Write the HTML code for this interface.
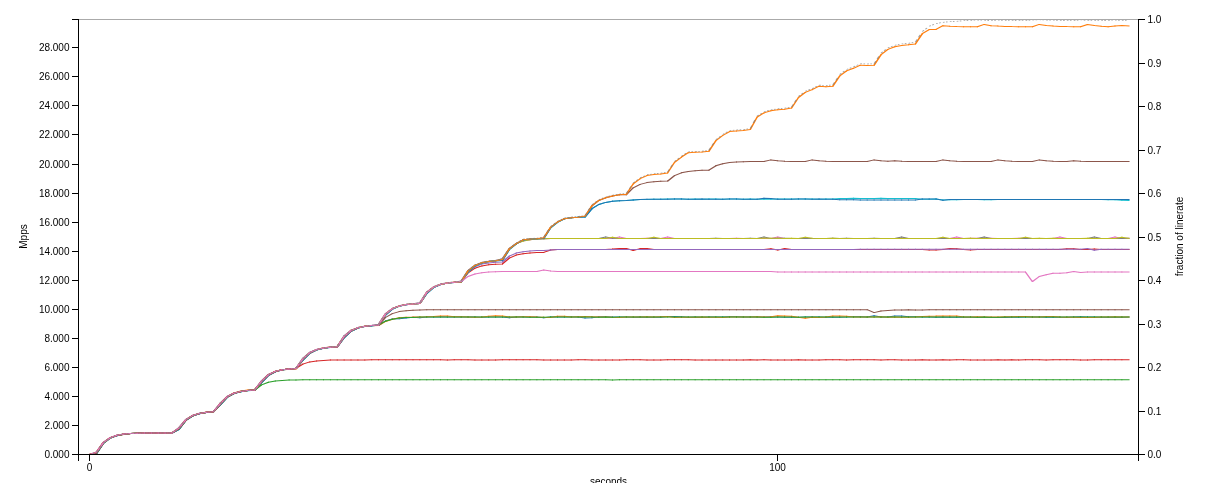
<!DOCTYPE html>
<html><head><meta charset="utf-8"><title>chart</title>
<style>
html,body{margin:0;padding:0;background:#fff;overflow:hidden}
svg{display:block;will-change:transform;font-family:"Liberation Sans",sans-serif;font-size:10px}
.ln path{fill:none;stroke-width:1;stroke-linecap:square;stroke-linejoin:round}
.ln path.n{stroke-linecap:butt}
.ln path.d{stroke-linecap:butt;stroke-width:0.8;stroke-opacity:0.7}
.ax path{fill:none;stroke:#000;stroke-width:1;shape-rendering:crispEdges}
.ax text,.lb{fill:#000}
</style></head><body>
<svg width="1205" height="483" viewBox="0 0 1205 483">
<g class="ln" transform="scale(1.6,1)">
<path d="M55.94,454.5L60.24,453.7L64.54,443.5L68.84,438.1L73.14,435.7L77.45,434.3L81.75,433.6L86.05,433.5L90.35,433.2L94.65,433.2L98.95,433.1L103.25,433.2L107.56,433.2L111.86,429.4L116.16,420.2L120.46,415.9L124.76,413.7L129.06,412.4L133.37,411.7L137.67,404.7L141.97,397.2L146.27,393.2L150.57,391.7L154.87,390.5L159.17,390.2L163.48,382.7L167.78,375.6L172.08,371.9L176.38,369.8L180.68,369.1L184.98,368.5L189.29,360L193.59,353.3L197.89,349.8L202.19,348.3L206.49,347.6L210.79,347.1L215.1,337.6L219.4,331.3L223.7,328.1L228,326.4L232.3,325.7L236.6,325.3L240.9,321L245.21,318.9L249.51,318.8L253.81,318.1L258.11,317.3L262.41,317.7L266.71,316.9L271.02,317L275.32,316.8L279.62,317.1L283.92,317.1L288.22,316.9L292.52,317.1L296.82,317.1L301.13,317.2L305.43,317.1L309.73,316.9L314.03,316.9L318.33,317.7L322.63,317L326.94,316.9L331.24,316.9L335.54,316.9L339.84,317.7L344.14,316.9L348.44,316.7L352.75,316.9L357.05,316.9L361.35,317.1L365.65,317.9L369.95,317.7L374.25,316.8L378.55,316.7L382.86,317L387.16,317L391.46,317L395.76,317.2L400.06,317.1L404.36,317.2L408.67,317.3L412.97,317.3L417.27,316.5L421.57,316.5L425.87,316.8L430.17,317.2L434.48,316.9L438.78,317.2L443.08,317.1L447.38,317L451.68,316.9L455.98,316.8L460.28,316.7L464.59,317L468.89,317L473.19,317.1L477.49,316.9L481.79,316.8L486.09,317L490.4,317.2L494.7,317.2L499,317.2L503.3,317.1L507.6,317L511.9,317.1L516.2,317.3L520.51,317.2L524.81,317.2L529.11,317.1L533.41,316.8L537.71,316.8L542.01,316.9L546.32,315.8L550.62,316.9L554.92,317.1L559.22,316L563.52,316L567.82,316.8L572.12,316.8L576.43,316.9L580.73,317L585.03,317.2L589.33,317L593.63,317.2L597.93,317.3L602.24,317.3L606.54,317.3L610.84,317.2L615.14,317.3L619.44,317.4L623.74,317.4L628.05,317.4L632.35,317.2L636.65,317.3L640.95,317L645.25,317L649.55,317.1L653.85,317.2L658.16,317.2L662.46,317.2L666.76,317.2L671.06,317L675.36,316.8L679.66,316.9L683.97,317L688.27,317.2L692.57,317.3L696.87,317.2L701.17,317.2L705.47,317" stroke="#1f77b4"/>
<path d="M59.93,453.7h0.62M64.23,443.5h0.62M68.53,438.1h0.62M72.83,435.7h0.62M77.13,434.3h0.62M81.43,433.6h0.62M85.74,433.5h0.62M90.04,433.2h0.62M94.34,433.2h0.62M98.64,433.1h0.62M102.94,433.2h0.62M107.24,433.2h0.62M111.55,429.4h0.62M115.85,420.2h0.62M120.15,415.9h0.62M124.45,413.7h0.62M128.75,412.4h0.62M133.05,411.7h0.62M137.35,404.7h0.62M141.66,397.2h0.62M145.96,393.2h0.62M150.26,391.7h0.62M154.56,390.5h0.62M158.86,390.2h0.62M163.16,382.7h0.62M167.47,375.6h0.62M171.77,371.9h0.62M176.07,369.8h0.62M180.37,369.1h0.62M184.67,368.5h0.62M188.97,360h0.62M193.28,353.3h0.62M197.58,349.8h0.62M201.88,348.3h0.62M206.18,347.6h0.62M210.48,347.1h0.62M214.78,337.6h0.62M219.08,331.3h0.62M223.39,328.1h0.62M227.69,326.4h0.62M231.99,325.7h0.62M236.29,325.3h0.62M240.59,321h0.62M244.89,318.9h0.62M249.2,318.8h0.62M253.5,318.1h0.62M257.8,317.3h0.62M262.1,317.7h0.62M266.4,316.9h0.62M270.7,317h0.62M275,316.8h0.62M279.31,317.1h0.62M283.61,317.1h0.62M287.91,316.9h0.62M292.21,317.1h0.62M296.51,317.1h0.62M300.81,317.2h0.62M305.12,317.1h0.62M309.42,316.9h0.62M313.72,316.9h0.62M318.02,317.7h0.62M322.32,317h0.62M326.62,316.9h0.62M330.93,316.9h0.62M335.23,316.9h0.62M339.53,317.7h0.62M343.83,316.9h0.62M348.13,316.7h0.62M352.43,316.9h0.62M356.73,316.9h0.62M361.04,317.1h0.62M365.34,317.9h0.62M369.64,317.7h0.62M373.94,316.8h0.62M378.24,316.7h0.62M382.54,317h0.62M386.85,317h0.62M391.15,317h0.62M395.45,317.2h0.62M399.75,317.1h0.62M404.05,317.2h0.62M408.35,317.3h0.62M412.65,317.3h0.62M416.96,316.5h0.62M421.26,316.5h0.62M425.56,316.8h0.62M429.86,317.2h0.62M434.16,316.9h0.62M438.46,317.2h0.62M442.77,317.1h0.62M447.07,317h0.62M451.37,316.9h0.62M455.67,316.8h0.62M459.97,316.7h0.62M464.27,317h0.62M468.57,317h0.62M472.88,317.1h0.62M477.18,316.9h0.62M481.48,316.8h0.62M485.78,317h0.62M490.08,317.2h0.62M494.38,317.2h0.62M498.69,317.2h0.62M502.99,317.1h0.62M507.29,317h0.62M511.59,317.1h0.62M515.89,317.3h0.62M520.19,317.2h0.62M524.5,317.2h0.62M528.8,317.1h0.62M533.1,316.8h0.62M537.4,316.8h0.62M541.7,316.9h0.62M546,315.8h0.62M550.3,316.9h0.62M554.61,317.1h0.62M558.91,316h0.62M563.21,316h0.62M567.51,316.8h0.62M571.81,316.8h0.62M576.11,316.9h0.62M580.42,317h0.62M584.72,317.2h0.62M589.02,317h0.62M593.32,317.2h0.62M597.62,317.3h0.62M601.92,317.3h0.62M606.23,317.3h0.62M610.53,317.2h0.62M614.83,317.3h0.62M619.13,317.4h0.62M623.43,317.4h0.62M627.73,317.4h0.62M632.03,317.2h0.62M636.34,317.3h0.62M640.64,317h0.62M644.94,317h0.62M649.24,317.1h0.62M653.54,317.2h0.62M657.84,317.2h0.62M662.15,317.2h0.62M666.45,317.2h0.62M670.75,317h0.62M675.05,316.8h0.62M679.35,316.9h0.62M683.65,317h0.62M687.95,317.2h0.62M692.26,317.3h0.62M696.56,317.2h0.62M700.86,317.2h0.62" stroke="#1f77b4" class="n"/>
<path d="M55.94,454.5L60.24,453.3L64.54,443.5L68.84,437.8L73.14,435.3L77.45,434.4L81.75,433.6L86.05,433.6L90.35,433.2L94.65,432.7L98.95,432.5L103.25,432.6L107.56,432.9L111.86,428.8L116.16,420.3L120.46,415.6L124.76,413.4L129.06,412.1L133.37,411.8L137.67,404.5L141.97,396.9L146.27,392.9L150.57,391L154.87,390.1L159.17,389.7L163.48,381.6L167.78,375L172.08,371.5L176.38,369.9L180.68,369.3L184.98,369L189.29,359.9L193.59,353.4L197.89,349.8L202.19,347.8L206.49,347.1L210.79,346.5L215.1,336.5L219.4,330.3L223.7,327.7L228,326.5L232.3,325.8L236.6,325.6L240.9,321.5L245.21,319.2L249.51,317.8L253.81,317.2L258.11,317.1L262.41,316.9L266.71,316.8L271.02,316.5L275.32,316.1L279.62,316L283.92,316.7L288.22,316.7L292.52,316.9L296.82,317.2L301.13,316.9L305.43,316.3L309.73,315.8L314.03,316L318.33,316.9L322.63,317L326.94,316.7L331.24,316.7L335.54,317.1L339.84,317.3L344.14,317.4L348.44,316.2L352.75,316.2L357.05,317.1L361.35,316.8L365.65,316.6L369.95,316.7L374.25,317L378.55,317L382.86,317.3L387.16,317.5L391.46,316.9L395.76,316.9L400.06,316.9L404.36,316.7L408.67,316.9L412.97,316.7L417.27,316.6L421.57,317.6L425.87,317.2L430.17,317.3L434.48,317.3L438.78,317.1L443.08,317.2L447.38,317.2L451.68,317.4L455.98,316.9L460.28,317.1L464.59,317.1L468.89,317L473.19,316.7L477.49,316.9L481.79,316.7L486.09,315.8L490.4,316L494.7,316.2L499,317.3L503.3,318.2L507.6,317.3L511.9,317.5L516.2,317.1L520.51,316.1L524.81,316L529.11,316.3L533.41,316.9L537.71,317.1L542.01,317L546.32,317L550.62,316.8L554.92,317.2L559.22,317.1L563.52,317.2L567.82,317.3L572.12,317L576.43,316.4L580.73,316.2L585.03,316.1L589.33,315.9L593.63,316.1L597.93,316.1L602.24,316.9L606.54,317L610.84,316.8L615.14,317L619.44,317L623.74,317L628.05,316.7L632.35,316.7L636.65,316.6L640.95,316.5L645.25,316.9L649.55,316.9L653.85,316.6L658.16,316.6L662.46,317.1L666.76,317.3L671.06,317.2L675.36,317.4L679.66,317.4L683.97,317.5L688.27,317.1L692.57,316.9L696.87,316.7L701.17,317.1L705.47,316.9" stroke="#ff7f0e"/>
<path d="M59.93,453.3h0.62M64.23,443.5h0.62M68.53,437.8h0.62M72.83,435.3h0.62M77.13,434.4h0.62M81.43,433.6h0.62M85.74,433.6h0.62M90.04,433.2h0.62M94.34,432.7h0.62M98.64,432.5h0.62M102.94,432.6h0.62M107.24,432.9h0.62M111.55,428.8h0.62M115.85,420.3h0.62M120.15,415.6h0.62M124.45,413.4h0.62M128.75,412.1h0.62M133.05,411.8h0.62M137.35,404.5h0.62M141.66,396.9h0.62M145.96,392.9h0.62M150.26,391h0.62M154.56,390.1h0.62M158.86,389.7h0.62M163.16,381.6h0.62M167.47,375h0.62M171.77,371.5h0.62M176.07,369.9h0.62M180.37,369.3h0.62M184.67,369h0.62M188.97,359.9h0.62M193.28,353.4h0.62M197.58,349.8h0.62M201.88,347.8h0.62M206.18,347.1h0.62M210.48,346.5h0.62M214.78,336.5h0.62M219.08,330.3h0.62M223.39,327.7h0.62M227.69,326.5h0.62M231.99,325.8h0.62M236.29,325.6h0.62M240.59,321.5h0.62M244.89,319.2h0.62M249.2,317.8h0.62M253.5,317.2h0.62M257.8,317.1h0.62M262.1,316.9h0.62M266.4,316.8h0.62M270.7,316.5h0.62M275,316.1h0.62M279.31,316h0.62M283.61,316.7h0.62M287.91,316.7h0.62M292.21,316.9h0.62M296.51,317.2h0.62M300.81,316.9h0.62M305.12,316.3h0.62M309.42,315.8h0.62M313.72,316h0.62M318.02,316.9h0.62M322.32,317h0.62M326.62,316.7h0.62M330.93,316.7h0.62M335.23,317.1h0.62M339.53,317.3h0.62M343.83,317.4h0.62M348.13,316.2h0.62M352.43,316.2h0.62M356.73,317.1h0.62M361.04,316.8h0.62M365.34,316.6h0.62M369.64,316.7h0.62M373.94,317h0.62M378.24,317h0.62M382.54,317.3h0.62M386.85,317.5h0.62M391.15,316.9h0.62M395.45,316.9h0.62M399.75,316.9h0.62M404.05,316.7h0.62M408.35,316.9h0.62M412.65,316.7h0.62M416.96,316.6h0.62M421.26,317.6h0.62M425.56,317.2h0.62M429.86,317.3h0.62M434.16,317.3h0.62M438.46,317.1h0.62M442.77,317.2h0.62M447.07,317.2h0.62M451.37,317.4h0.62M455.67,316.9h0.62M459.97,317.1h0.62M464.27,317.1h0.62M468.57,317h0.62M472.88,316.7h0.62M477.18,316.9h0.62M481.48,316.7h0.62M485.78,315.8h0.62M490.08,316h0.62M494.38,316.2h0.62M498.69,317.3h0.62M502.99,318.2h0.62M507.29,317.3h0.62M511.59,317.5h0.62M515.89,317.1h0.62M520.19,316.1h0.62M524.5,316h0.62M528.8,316.3h0.62M533.1,316.9h0.62M537.4,317.1h0.62M541.7,317h0.62M546,317h0.62M550.3,316.8h0.62M554.61,317.2h0.62M558.91,317.1h0.62M563.21,317.2h0.62M567.51,317.3h0.62M571.81,317h0.62M576.11,316.4h0.62M580.42,316.2h0.62M584.72,316.1h0.62M589.02,315.9h0.62M593.32,316.1h0.62M597.62,316.1h0.62M601.92,316.9h0.62M606.23,317h0.62M610.53,316.8h0.62M614.83,317h0.62M619.13,317h0.62M623.43,317h0.62M627.73,316.7h0.62M632.03,316.7h0.62M636.34,316.6h0.62M640.64,316.5h0.62M644.94,316.9h0.62M649.24,316.9h0.62M653.54,316.6h0.62M657.84,316.6h0.62M662.15,317.1h0.62M666.45,317.3h0.62M670.75,317.2h0.62M675.05,317.4h0.62M679.35,317.4h0.62M683.65,317.5h0.62M687.95,317.1h0.62M692.26,316.9h0.62M696.56,316.7h0.62M700.86,317.1h0.62" stroke="#ff7f0e" class="n"/>
<path d="M55.94,454.5L60.24,453.4L64.54,443.2L68.84,438L73.14,435.3L77.45,434.2L81.75,433.4L86.05,433.2L90.35,433L94.65,432.9L98.95,432.8L103.25,432.9L107.56,432.9L111.86,429L116.16,420.2L120.46,415.8L124.76,413.6L129.06,412.4L133.37,411.9L137.67,404.7L141.97,397.2L146.27,393.5L150.57,391.6L154.87,390.6L159.17,390.1L163.48,382.4L167.78,375.1L172.08,371.5L176.38,369.7L180.68,369L184.98,368.6L189.29,360L193.59,353.1L197.89,349.8L202.19,348.2L206.49,347.3L210.79,346.8L215.1,337.3L219.4,331.1L223.7,328L228,326.3L232.3,325.6L236.6,325.2L240.9,321.2L245.21,319.2L249.51,318.1L253.81,317.6L258.11,317.4L262.41,317.1L266.71,317L271.02,317L275.32,317.1L279.62,317L283.92,317.1L288.22,317L292.52,317L296.82,317L301.13,317L305.43,316.9L309.73,317L314.03,317.1L318.33,317.1L322.63,317.1L326.94,317.1L331.24,317.2L335.54,317.2L339.84,317.2L344.14,317.1L348.44,317.1L352.75,317L357.05,317.1L361.35,317L365.65,317.1L369.95,317.1L374.25,317.2L378.55,317.1L382.86,317.2L387.16,317L391.46,317L395.76,317.1L400.06,317.1L404.36,316.9L408.67,317.1L412.97,317L417.27,317L421.57,317L425.87,316.9L430.17,317L434.48,317L438.78,317L443.08,316.9L447.38,317L451.68,316.9L455.98,316.9L460.28,316.9L464.59,317L468.89,317L473.19,317.1L477.49,317.2L481.79,317.2L486.09,317L490.4,317.1L494.7,317.1L499,317.2L503.3,317L507.6,316.9L511.9,316.9L516.2,317L520.51,317.1L524.81,317.1L529.11,317.1L533.41,317.1L537.71,317.1L542.01,317.1L546.32,317L550.62,316.9L554.92,316.9L559.22,317L563.52,316.9L567.82,317L572.12,317L576.43,317.1L580.73,317.1L585.03,317.1L589.33,317L593.63,317.1L597.93,317.1L602.24,317.1L606.54,317.1L610.84,317.2L615.14,317.1L619.44,317.2L623.74,317.2L628.05,317.1L632.35,317.1L636.65,317.1L640.95,317L645.25,317L649.55,317L653.85,316.9L658.16,316.9L662.46,317L666.76,317L671.06,316.9L675.36,317L679.66,317L683.97,317L688.27,317.1L692.57,317L696.87,316.9L701.17,316.9L705.47,316.9" stroke="#2ca02c"/>
<path d="M59.93,453.4h0.62M64.23,443.2h0.62M68.53,438h0.62M72.83,435.3h0.62M77.13,434.2h0.62M81.43,433.4h0.62M85.74,433.2h0.62M90.04,433h0.62M94.34,432.9h0.62M98.64,432.8h0.62M102.94,432.9h0.62M107.24,432.9h0.62M111.55,429h0.62M115.85,420.2h0.62M120.15,415.8h0.62M124.45,413.6h0.62M128.75,412.4h0.62M133.05,411.9h0.62M137.35,404.7h0.62M141.66,397.2h0.62M145.96,393.5h0.62M150.26,391.6h0.62M154.56,390.6h0.62M158.86,390.1h0.62M163.16,382.4h0.62M167.47,375.1h0.62M171.77,371.5h0.62M176.07,369.7h0.62M180.37,369h0.62M184.67,368.6h0.62M188.97,360h0.62M193.28,353.1h0.62M197.58,349.8h0.62M201.88,348.2h0.62M206.18,347.3h0.62M210.48,346.8h0.62M214.78,337.3h0.62M219.08,331.1h0.62M223.39,328h0.62M227.69,326.3h0.62M231.99,325.6h0.62M236.29,325.2h0.62M240.59,321.2h0.62M244.89,319.2h0.62M249.2,318.1h0.62M253.5,317.6h0.62M257.8,317.4h0.62M262.1,317.1h0.62M266.4,317h0.62M270.7,317h0.62M275,317.1h0.62M279.31,317h0.62M283.61,317.1h0.62M287.91,317h0.62M292.21,317h0.62M296.51,317h0.62M300.81,317h0.62M305.12,316.9h0.62M309.42,317h0.62M313.72,317.1h0.62M318.02,317.1h0.62M322.32,317.1h0.62M326.62,317.1h0.62M330.93,317.2h0.62M335.23,317.2h0.62M339.53,317.2h0.62M343.83,317.1h0.62M348.13,317.1h0.62M352.43,317h0.62M356.73,317.1h0.62M361.04,317h0.62M365.34,317.1h0.62M369.64,317.1h0.62M373.94,317.2h0.62M378.24,317.1h0.62M382.54,317.2h0.62M386.85,317h0.62M391.15,317h0.62M395.45,317.1h0.62M399.75,317.1h0.62M404.05,316.9h0.62M408.35,317.1h0.62M412.65,317h0.62M416.96,317h0.62M421.26,317h0.62M425.56,316.9h0.62M429.86,317h0.62M434.16,317h0.62M438.46,317h0.62M442.77,316.9h0.62M447.07,317h0.62M451.37,316.9h0.62M455.67,316.9h0.62M459.97,316.9h0.62M464.27,317h0.62M468.57,317h0.62M472.88,317.1h0.62M477.18,317.2h0.62M481.48,317.2h0.62M485.78,317h0.62M490.08,317.1h0.62M494.38,317.1h0.62M498.69,317.2h0.62M502.99,317h0.62M507.29,316.9h0.62M511.59,316.9h0.62M515.89,317h0.62M520.19,317.1h0.62M524.5,317.1h0.62M528.8,317.1h0.62M533.1,317.1h0.62M537.4,317.1h0.62M541.7,317.1h0.62M546,317h0.62M550.3,316.9h0.62M554.61,316.9h0.62M558.91,317h0.62M563.21,316.9h0.62M567.51,317h0.62M571.81,317h0.62M576.11,317.1h0.62M580.42,317.1h0.62M584.72,317.1h0.62M589.02,317h0.62M593.32,317.1h0.62M597.62,317.1h0.62M601.92,317.1h0.62M606.23,317.1h0.62M610.53,317.2h0.62M614.83,317.1h0.62M619.13,317.2h0.62M623.43,317.2h0.62M627.73,317.1h0.62M632.03,317.1h0.62M636.34,317.1h0.62M640.64,317h0.62M644.94,317h0.62M649.24,317h0.62M653.54,316.9h0.62M657.84,316.9h0.62M662.15,317h0.62M666.45,317h0.62M670.75,316.9h0.62M675.05,317h0.62M679.35,317h0.62M683.65,317h0.62M687.95,317.1h0.62M692.26,317h0.62M696.56,316.9h0.62M700.86,316.9h0.62" stroke="#2ca02c" class="n"/>
<path d="M55.94,454.5L60.24,453L64.54,443L68.84,437.9L73.14,435.4L77.45,434.1L81.75,433.5L86.05,433.2L90.35,433L94.65,432.9L98.95,432.9L103.25,432.9L107.56,432.9L111.86,428.6L116.16,420L120.46,415.6L124.76,413.5L129.06,412.4L133.37,411.8L137.67,404.2L141.97,396.9L146.27,393.3L150.57,391.5L154.87,390.6L159.17,390.1L163.48,381.9L167.78,375L172.08,371.5L176.38,369.8L180.68,368.9L184.98,368.5L189.29,359.4L193.59,353L197.89,349.7L202.19,348.1L206.49,347.3L210.79,346.8L215.1,336.9L219.4,330.9L223.7,327.9L228,326.3L232.3,325.6L236.6,325.2L240.9,314.4L245.21,308.8L249.51,306L253.81,304.7L258.11,304L262.41,303.6L266.71,292.8L271.02,287.2L275.32,284.4L279.62,283.1L283.92,282.4L288.22,282L292.52,272.8L296.82,268.2L301.13,265.9L305.43,264.7L309.73,264.2L314.03,263.9L318.33,258.1L322.63,255.1L326.94,253.7L331.24,252.9L335.54,252.5L339.84,252.4L344.14,250L348.44,249.6L352.75,249.5L357.05,249.6L361.35,249.6L365.65,249.5L369.95,249.4L374.25,249.5L378.55,249.5L382.86,249L387.16,248.4L391.46,248.4L395.76,250.5L400.06,248.6L404.36,248.6L408.67,249.4L412.97,249.4L417.27,249.5L421.57,249.4L425.87,249.4L430.17,249.5L434.48,249.5L438.78,249.5L443.08,249.5L447.38,249.5L451.68,249.5L455.98,249.5L460.28,249.5L464.59,249.4L468.89,249.5L473.19,249.4L477.49,249.4L481.79,248.7L486.09,250.1L490.4,248.5L494.7,249.4L499,249.4L503.3,249.5L507.6,249.5L511.9,249.4L516.2,249.4L520.51,249.4L524.81,249.5L529.11,249.5L533.41,249.5L537.71,249.5L542.01,249.5L546.32,249.5L550.62,249.4L554.92,249.5L559.22,249.5L563.52,249.5L567.82,249.5L572.12,249.5L576.43,249.4L580.73,250.1L585.03,250.1L589.33,249.4L593.63,248.5L597.93,248.7L602.24,249.4L606.54,250L610.84,249.5L615.14,249.4L619.44,249.4L623.74,249.4L628.05,249.4L632.35,249.5L636.65,249.5L640.95,249.4L645.25,249.5L649.55,249.5L653.85,249.5L658.16,249.5L662.46,249.4L666.76,248.7L671.06,248.7L675.36,249.4L679.66,249.5L683.97,248.9L688.27,249.5L692.57,249.5L696.87,249.5L701.17,249.5L705.47,249.4" stroke="#d62728"/>
<path d="M59.93,453h0.62M64.23,443h0.62M68.53,437.9h0.62M72.83,435.4h0.62M77.13,434.1h0.62M81.43,433.5h0.62M85.74,433.2h0.62M90.04,433h0.62M94.34,432.9h0.62M98.64,432.9h0.62M102.94,432.9h0.62M107.24,432.9h0.62M111.55,428.6h0.62M115.85,420h0.62M120.15,415.6h0.62M124.45,413.5h0.62M128.75,412.4h0.62M133.05,411.8h0.62M137.35,404.2h0.62M141.66,396.9h0.62M145.96,393.3h0.62M150.26,391.5h0.62M154.56,390.6h0.62M158.86,390.1h0.62M163.16,381.9h0.62M167.47,375h0.62M171.77,371.5h0.62M176.07,369.8h0.62M180.37,368.9h0.62M184.67,368.5h0.62M188.97,359.4h0.62M193.28,353h0.62M197.58,349.7h0.62M201.88,348.1h0.62M206.18,347.3h0.62M210.48,346.8h0.62M214.78,336.9h0.62M219.08,330.9h0.62M223.39,327.9h0.62M227.69,326.3h0.62M231.99,325.6h0.62M236.29,325.2h0.62M240.59,314.4h0.62M244.89,308.8h0.62M249.2,306h0.62M253.5,304.7h0.62M257.8,304h0.62M262.1,303.6h0.62M266.4,292.8h0.62M270.7,287.2h0.62M275,284.4h0.62M279.31,283.1h0.62M283.61,282.4h0.62M287.91,282h0.62M292.21,272.8h0.62M296.51,268.2h0.62M300.81,265.9h0.62M305.12,264.7h0.62M309.42,264.2h0.62M313.72,263.9h0.62M318.02,258.1h0.62M322.32,255.1h0.62M326.62,253.7h0.62M330.93,252.9h0.62M335.23,252.5h0.62M339.53,252.4h0.62M343.83,250h0.62M348.13,249.6h0.62M352.43,249.5h0.62M356.73,249.6h0.62M361.04,249.6h0.62M365.34,249.5h0.62M369.64,249.4h0.62M373.94,249.5h0.62M378.24,249.5h0.62M382.54,249h0.62M386.85,248.4h0.62M391.15,248.4h0.62M395.45,250.5h0.62M399.75,248.6h0.62M404.05,248.6h0.62M408.35,249.4h0.62M412.65,249.4h0.62M416.96,249.5h0.62M421.26,249.4h0.62M425.56,249.4h0.62M429.86,249.5h0.62M434.16,249.5h0.62M438.46,249.5h0.62M442.77,249.5h0.62M447.07,249.5h0.62M451.37,249.5h0.62M455.67,249.5h0.62M459.97,249.5h0.62M464.27,249.4h0.62M468.57,249.5h0.62M472.88,249.4h0.62M477.18,249.4h0.62M481.48,248.7h0.62M485.78,250.1h0.62M490.08,248.5h0.62M494.38,249.4h0.62M498.69,249.4h0.62M502.99,249.5h0.62M507.29,249.5h0.62M511.59,249.4h0.62M515.89,249.4h0.62M520.19,249.4h0.62M524.5,249.5h0.62M528.8,249.5h0.62M533.1,249.5h0.62M537.4,249.5h0.62M541.7,249.5h0.62M546,249.5h0.62M550.3,249.4h0.62M554.61,249.5h0.62M558.91,249.5h0.62M563.21,249.5h0.62M567.51,249.5h0.62M571.81,249.5h0.62M576.11,249.4h0.62M580.42,250.1h0.62M584.72,250.1h0.62M589.02,249.4h0.62M593.32,248.5h0.62M597.62,248.7h0.62M601.92,249.4h0.62M606.23,250h0.62M610.53,249.5h0.62M614.83,249.4h0.62M619.13,249.4h0.62M623.43,249.4h0.62M627.73,249.4h0.62M632.03,249.5h0.62M636.34,249.5h0.62M640.64,249.4h0.62M644.94,249.5h0.62M649.24,249.5h0.62M653.54,249.5h0.62M657.84,249.5h0.62M662.15,249.4h0.62M666.45,248.7h0.62M670.75,248.7h0.62M675.05,249.4h0.62M679.35,249.5h0.62M683.65,248.9h0.62M687.95,249.5h0.62M692.26,249.5h0.62M696.56,249.5h0.62M700.86,249.5h0.62" stroke="#d62728" class="n"/>
<path d="M55.94,454.5L60.24,453.3L64.54,443.1L68.84,438L73.14,435.4L77.45,434.2L81.75,433.5L86.05,433.2L90.35,433L94.65,433L98.95,432.9L103.25,432.9L107.56,432.9L111.86,428.9L116.16,420.1L120.46,415.7L124.76,413.5L129.06,412.4L133.37,411.8L137.67,404.5L141.97,397.1L146.27,393.4L150.57,391.5L154.87,390.6L159.17,390.1L163.48,382.2L167.78,375.1L172.08,371.6L176.38,369.8L180.68,368.9L184.98,368.5L189.29,359.7L193.59,353.1L197.89,349.8L202.19,348.1L206.49,347.3L210.79,346.9L215.1,337.2L219.4,331L223.7,327.9L228,326.4L232.3,325.6L236.6,325.2L240.9,314.8L245.21,309L249.51,306.1L253.81,304.7L258.11,303.9L262.41,303.6L266.71,293.1L271.02,287.4L275.32,284.5L279.62,283L283.92,282.3L288.22,282L292.52,271.8L296.82,266.7L301.13,264.1L305.43,262.9L309.73,262.2L314.03,261.9L318.33,256.1L322.63,253.1L326.94,251.7L331.24,250.9L335.54,250.6L339.84,250.4L344.14,249.9L348.44,249.6L352.75,249.5L357.05,249.4L361.35,249.4L365.65,249.4L369.95,249.4L374.25,249.4L378.55,249.4L382.86,249.4L387.16,249.4L391.46,249.4L395.76,249.4L400.06,249.4L404.36,249.4L408.67,249.4L412.97,249.4L417.27,249.4L421.57,249.4L425.87,249.4L430.17,249.4L434.48,249.4L438.78,249.4L443.08,249.4L447.38,249.4L451.68,249.4L455.98,249.4L460.28,249.4L464.59,249.4L468.89,249.4L473.19,249.4L477.49,249.4L481.79,249.4L486.09,249.4L490.4,249.4L494.7,249.4L499,249.4L503.3,249.4L507.6,249.4L511.9,249.4L516.2,249.4L520.51,249.4L524.81,249.4L529.11,249.4L533.41,249.4L537.71,249.3L542.01,249.3L546.32,249.3L550.62,249.3L554.92,249.3L559.22,249.3L563.52,249.3L567.82,249.3L572.12,249.3L576.43,249.3L580.73,249.3L585.03,249.3L589.33,249.3L593.63,249.3L597.93,249.3L602.24,249.3L606.54,249.3L610.84,249.3L615.14,249.3L619.44,249.3L623.74,249.3L628.05,249.3L632.35,249.3L636.65,249.3L640.95,249.3L645.25,249.3L649.55,249.3L653.85,249.3L658.16,249.3L662.46,249.3L666.76,249.3L671.06,249.3L675.36,249.3L679.66,248.5L683.97,250.2L688.27,249.3L692.57,249.3L696.87,249.3L701.17,249.3L705.47,249.3" stroke="#9467bd"/>
<path d="M59.93,453.3h0.62M64.23,443.1h0.62M68.53,438h0.62M72.83,435.4h0.62M77.13,434.2h0.62M81.43,433.5h0.62M85.74,433.2h0.62M90.04,433h0.62M94.34,433h0.62M98.64,432.9h0.62M102.94,432.9h0.62M107.24,432.9h0.62M111.55,428.9h0.62M115.85,420.1h0.62M120.15,415.7h0.62M124.45,413.5h0.62M128.75,412.4h0.62M133.05,411.8h0.62M137.35,404.5h0.62M141.66,397.1h0.62M145.96,393.4h0.62M150.26,391.5h0.62M154.56,390.6h0.62M158.86,390.1h0.62M163.16,382.2h0.62M167.47,375.1h0.62M171.77,371.6h0.62M176.07,369.8h0.62M180.37,368.9h0.62M184.67,368.5h0.62M188.97,359.7h0.62M193.28,353.1h0.62M197.58,349.8h0.62M201.88,348.1h0.62M206.18,347.3h0.62M210.48,346.9h0.62M214.78,337.2h0.62M219.08,331h0.62M223.39,327.9h0.62M227.69,326.4h0.62M231.99,325.6h0.62M236.29,325.2h0.62M240.59,314.8h0.62M244.89,309h0.62M249.2,306.1h0.62M253.5,304.7h0.62M257.8,303.9h0.62M262.1,303.6h0.62M266.4,293.1h0.62M270.7,287.4h0.62M275,284.5h0.62M279.31,283h0.62M283.61,282.3h0.62M287.91,282h0.62M292.21,271.8h0.62M296.51,266.7h0.62M300.81,264.1h0.62M305.12,262.9h0.62M309.42,262.2h0.62M313.72,261.9h0.62M318.02,256.1h0.62M322.32,253.1h0.62M326.62,251.7h0.62M330.93,250.9h0.62M335.23,250.6h0.62M339.53,250.4h0.62M343.83,249.9h0.62M348.13,249.6h0.62M352.43,249.5h0.62M356.73,249.4h0.62M361.04,249.4h0.62M365.34,249.4h0.62M369.64,249.4h0.62M373.94,249.4h0.62M378.24,249.4h0.62M382.54,249.4h0.62M386.85,249.4h0.62M391.15,249.4h0.62M395.45,249.4h0.62M399.75,249.4h0.62M404.05,249.4h0.62M408.35,249.4h0.62M412.65,249.4h0.62M416.96,249.4h0.62M421.26,249.4h0.62M425.56,249.4h0.62M429.86,249.4h0.62M434.16,249.4h0.62M438.46,249.4h0.62M442.77,249.4h0.62M447.07,249.4h0.62M451.37,249.4h0.62M455.67,249.4h0.62M459.97,249.4h0.62M464.27,249.4h0.62M468.57,249.4h0.62M472.88,249.4h0.62M477.18,249.4h0.62M481.48,249.4h0.62M485.78,249.4h0.62M490.08,249.4h0.62M494.38,249.4h0.62M498.69,249.4h0.62M502.99,249.4h0.62M507.29,249.4h0.62M511.59,249.4h0.62M515.89,249.4h0.62M520.19,249.4h0.62M524.5,249.4h0.62M528.8,249.4h0.62M533.1,249.4h0.62M537.4,249.3h0.62M541.7,249.3h0.62M546,249.3h0.62M550.3,249.3h0.62M554.61,249.3h0.62M558.91,249.3h0.62M563.21,249.3h0.62M567.51,249.3h0.62M571.81,249.3h0.62M576.11,249.3h0.62M580.42,249.3h0.62M584.72,249.3h0.62M589.02,249.3h0.62M593.32,249.3h0.62M597.62,249.3h0.62M601.92,249.3h0.62M606.23,249.3h0.62M610.53,249.3h0.62M614.83,249.3h0.62M619.13,249.3h0.62M623.43,249.3h0.62M627.73,249.3h0.62M632.03,249.3h0.62M636.34,249.3h0.62M640.64,249.3h0.62M644.94,249.3h0.62M649.24,249.3h0.62M653.54,249.3h0.62M657.84,249.3h0.62M662.15,249.3h0.62M666.45,249.3h0.62M670.75,249.3h0.62M675.05,249.3h0.62M679.35,248.5h0.62M683.65,250.2h0.62M687.95,249.3h0.62M692.26,249.3h0.62M696.56,249.3h0.62M700.86,249.3h0.62" stroke="#9467bd" class="n"/>
<path d="M55.94,454.5L60.24,453.2L64.54,443L68.84,438L73.14,435.4L77.45,434.2L81.75,433.5L86.05,433.2L90.35,433L94.65,433L98.95,432.9L103.25,432.9L107.56,432.9L111.86,428.8L116.16,420L120.46,415.7L124.76,413.5L129.06,412.4L133.37,411.8L137.67,404.4L141.97,397L146.27,393.4L150.57,391.5L154.87,390.6L159.17,390.1L163.48,382.1L167.78,375.1L172.08,371.6L176.38,369.8L180.68,368.9L184.98,368.5L189.29,359.6L193.59,353L197.89,349.7L202.19,348.1L206.49,347.3L210.79,346.9L215.1,337.1L219.4,331L223.7,327.9L228,326.4L232.3,325.6L236.6,325.2L240.9,314.6L245.21,308.9L249.51,306.1L253.81,304.6L258.11,303.9L262.41,303.6L266.71,293L271.02,287.3L275.32,284.5L279.62,283L283.92,282.3L288.22,282L292.52,271.4L296.82,265.7L301.13,262.8L305.43,261.4L309.73,260.7L314.03,259.9L318.33,249.2L322.63,243.8L326.94,239.8L331.24,239.1L335.54,238.7L339.84,238.1L344.14,227.5L348.44,222.1L352.75,218.7L357.05,217.7L361.35,217.3L365.65,216.6L369.95,205.9L374.25,200.5L378.55,197.8L382.86,196L387.16,194.7L391.46,194.7L395.76,187.8L400.06,184.4L404.36,182.6L408.67,181.8L412.97,181.3L417.27,181.1L421.57,175.6L425.87,172.8L430.17,171.4L434.48,170.7L438.78,170.3L443.08,170.2L447.38,165.8L451.68,163.7L455.98,162.6L460.28,162L464.59,161.8L468.89,161.6L473.19,161.6L477.49,161.5L481.79,159.9L486.09,160.8L490.4,161.2L494.7,161.5L499,161.5L503.3,161.5L507.6,159.9L511.9,160.8L516.2,161.2L520.51,161.5L524.81,161.5L529.11,161.5L533.41,161.5L537.71,161.5L542.01,161.5L546.32,159.9L550.62,160.8L554.92,161.2L559.22,160.8L563.52,161.2L567.82,161.5L572.12,161.5L576.43,161.5L580.73,161.5L585.03,161.5L589.33,159.9L593.63,160.8L597.93,161.2L602.24,161.5L606.54,161.5L610.84,161.5L615.14,161.5L619.44,161.5L623.74,159.9L628.05,160.8L632.35,161.2L636.65,161.5L640.95,161.5L645.25,161.5L649.55,159.9L653.85,160.8L658.16,161.2L662.46,161.5L666.76,161.5L671.06,160.8L675.36,161.2L679.66,161.5L683.97,161.5L688.27,161.5L692.57,161.5L696.87,161.5L701.17,161.5L705.47,161.5" stroke="#8c564b"/>
<path d="M59.93,453.2h0.62M64.23,443h0.62M68.53,438h0.62M72.83,435.4h0.62M77.13,434.2h0.62M81.43,433.5h0.62M85.74,433.2h0.62M90.04,433h0.62M94.34,433h0.62M98.64,432.9h0.62M102.94,432.9h0.62M107.24,432.9h0.62M111.55,428.8h0.62M115.85,420h0.62M120.15,415.7h0.62M124.45,413.5h0.62M128.75,412.4h0.62M133.05,411.8h0.62M137.35,404.4h0.62M141.66,397h0.62M145.96,393.4h0.62M150.26,391.5h0.62M154.56,390.6h0.62M158.86,390.1h0.62M163.16,382.1h0.62M167.47,375.1h0.62M171.77,371.6h0.62M176.07,369.8h0.62M180.37,368.9h0.62M184.67,368.5h0.62M188.97,359.6h0.62M193.28,353h0.62M197.58,349.7h0.62M201.88,348.1h0.62M206.18,347.3h0.62M210.48,346.9h0.62M214.78,337.1h0.62M219.08,331h0.62M223.39,327.9h0.62M227.69,326.4h0.62M231.99,325.6h0.62M236.29,325.2h0.62M240.59,314.6h0.62M244.89,308.9h0.62M249.2,306.1h0.62M253.5,304.6h0.62M257.8,303.9h0.62M262.1,303.6h0.62M266.4,293h0.62M270.7,287.3h0.62M275,284.5h0.62M279.31,283h0.62M283.61,282.3h0.62M287.91,282h0.62M292.21,271.4h0.62M296.51,265.7h0.62M300.81,262.8h0.62M305.12,261.4h0.62M309.42,260.7h0.62M313.72,259.9h0.62M318.02,249.2h0.62M322.32,243.8h0.62M326.62,239.8h0.62M330.93,239.1h0.62M335.23,238.7h0.62M339.53,238.1h0.62M343.83,227.5h0.62M348.13,222.1h0.62M352.43,218.7h0.62M356.73,217.7h0.62M361.04,217.3h0.62M365.34,216.6h0.62M369.64,205.9h0.62M373.94,200.5h0.62M378.24,197.8h0.62M382.54,196h0.62M386.85,194.7h0.62M391.15,194.7h0.62M395.45,187.8h0.62M399.75,184.4h0.62M404.05,182.6h0.62M408.35,181.8h0.62M412.65,181.3h0.62M416.96,181.1h0.62M421.26,175.6h0.62M425.56,172.8h0.62M429.86,171.4h0.62M434.16,170.7h0.62M438.46,170.3h0.62M442.77,170.2h0.62M447.07,165.8h0.62M451.37,163.7h0.62M455.67,162.6h0.62M459.97,162h0.62M464.27,161.8h0.62M468.57,161.6h0.62M472.88,161.6h0.62M477.18,161.5h0.62M481.48,159.9h0.62M485.78,160.8h0.62M490.08,161.2h0.62M494.38,161.5h0.62M498.69,161.5h0.62M502.99,161.5h0.62M507.29,159.9h0.62M511.59,160.8h0.62M515.89,161.2h0.62M520.19,161.5h0.62M524.5,161.5h0.62M528.8,161.5h0.62M533.1,161.5h0.62M537.4,161.5h0.62M541.7,161.5h0.62M546,159.9h0.62M550.3,160.8h0.62M554.61,161.2h0.62M558.91,160.8h0.62M563.21,161.2h0.62M567.51,161.5h0.62M571.81,161.5h0.62M576.11,161.5h0.62M580.42,161.5h0.62M584.72,161.5h0.62M589.02,159.9h0.62M593.32,160.8h0.62M597.62,161.2h0.62M601.92,161.5h0.62M606.23,161.5h0.62M610.53,161.5h0.62M614.83,161.5h0.62M619.13,161.5h0.62M623.43,159.9h0.62M627.73,160.8h0.62M632.03,161.2h0.62M636.34,161.5h0.62M640.64,161.5h0.62M644.94,161.5h0.62M649.24,159.9h0.62M653.54,160.8h0.62M657.84,161.2h0.62M662.15,161.5h0.62M666.45,161.5h0.62M670.75,160.8h0.62M675.05,161.2h0.62M679.35,161.5h0.62M683.65,161.5h0.62M687.95,161.5h0.62M692.26,161.5h0.62M696.56,161.5h0.62M700.86,161.5h0.62" stroke="#8c564b" class="n"/>
<path d="M55.94,454.5L60.24,452.1L64.54,442.5L68.84,437.7L73.14,435.2L77.45,434.1L81.75,433.5L86.05,433.2L90.35,433.1L94.65,433L98.95,433L103.25,433L107.56,432.9L111.86,427.7L116.16,419.5L120.46,415.3L124.76,413.3L129.06,412.3L133.37,411.8L137.67,403.3L141.97,396.5L146.27,393.1L150.57,391.4L154.87,390.5L159.17,390.1L163.48,381L167.78,374.5L172.08,371.3L176.38,369.7L180.68,368.9L184.98,368.5L189.29,358.6L193.59,352.5L197.89,349.4L202.19,347.9L206.49,347.1L210.79,346.8L215.1,336.1L219.4,330.4L223.7,327.6L228,326.2L232.3,325.5L236.6,324.6L240.9,313.9L245.21,308.5L249.51,305.8L253.81,304.5L258.11,303.8L262.41,302.9L266.71,292.3L271.02,287L275.32,284.3L279.62,282.9L283.92,282.2L288.22,281.3L292.52,270.6L296.82,265.3L301.13,262.6L305.43,261.3L309.73,260.7L314.03,258.8L318.33,248.6L322.63,243.5L326.94,240.9L331.24,239.7L335.54,239.1L339.84,238.7L344.14,238.6L348.44,238.4L352.75,238.4L357.05,238.5L361.35,238.4L365.65,238.4L369.95,238.4L374.25,238.4L378.55,238.4L382.86,238.4L387.16,237.1L391.46,238.4L395.76,238.4L400.06,238.4L404.36,238.3L408.67,238.4L412.97,238.4L417.27,237.1L421.57,238.4L425.87,238.4L430.17,238.4L434.48,238.4L438.78,238.4L443.08,238.4L447.38,238.4L451.68,238.4L455.98,238.4L460.28,238.3L464.59,238.4L468.89,238.4L473.19,238.4L477.49,238.4L481.79,238.4L486.09,237.1L490.4,238.4L494.7,238.4L499,238.4L503.3,238.4L507.6,238.4L511.9,238.4L516.2,238.4L520.51,238.4L524.81,238.4L529.11,238.4L533.41,238.4L537.71,238.4L542.01,238.4L546.32,238.4L550.62,238.4L554.92,238.4L559.22,238.4L563.52,238.3L567.82,238.4L572.12,238.4L576.43,238.4L580.73,238.4L585.03,238.4L589.33,238.4L593.63,238.4L597.93,237.1L602.24,238.4L606.54,238.3L610.84,238.3L615.14,238.3L619.44,238.3L623.74,238.4L628.05,238.4L632.35,238.4L636.65,238.3L640.95,238.4L645.25,238.4L649.55,238.4L653.85,238.4L658.16,238.4L662.46,237.1L666.76,238.4L671.06,238.4L675.36,238.4L679.66,238.4L683.97,238.4L688.27,238.4L692.57,238.4L696.87,237.1L701.17,238.4L705.47,238.3" stroke="#e377c2"/>
<path d="M59.93,452.1h0.62M64.23,442.5h0.62M68.53,437.7h0.62M72.83,435.2h0.62M77.13,434.1h0.62M81.43,433.5h0.62M85.74,433.2h0.62M90.04,433.1h0.62M94.34,433h0.62M98.64,433h0.62M102.94,433h0.62M107.24,432.9h0.62M111.55,427.7h0.62M115.85,419.5h0.62M120.15,415.3h0.62M124.45,413.3h0.62M128.75,412.3h0.62M133.05,411.8h0.62M137.35,403.3h0.62M141.66,396.5h0.62M145.96,393.1h0.62M150.26,391.4h0.62M154.56,390.5h0.62M158.86,390.1h0.62M163.16,381h0.62M167.47,374.5h0.62M171.77,371.3h0.62M176.07,369.7h0.62M180.37,368.9h0.62M184.67,368.5h0.62M188.97,358.6h0.62M193.28,352.5h0.62M197.58,349.4h0.62M201.88,347.9h0.62M206.18,347.1h0.62M210.48,346.8h0.62M214.78,336.1h0.62M219.08,330.4h0.62M223.39,327.6h0.62M227.69,326.2h0.62M231.99,325.5h0.62M236.29,324.6h0.62M240.59,313.9h0.62M244.89,308.5h0.62M249.2,305.8h0.62M253.5,304.5h0.62M257.8,303.8h0.62M262.1,302.9h0.62M266.4,292.3h0.62M270.7,287h0.62M275,284.3h0.62M279.31,282.9h0.62M283.61,282.2h0.62M287.91,281.3h0.62M292.21,270.6h0.62M296.51,265.3h0.62M300.81,262.6h0.62M305.12,261.3h0.62M309.42,260.7h0.62M313.72,258.8h0.62M318.02,248.6h0.62M322.32,243.5h0.62M326.62,240.9h0.62M330.93,239.7h0.62M335.23,239.1h0.62M339.53,238.7h0.62M343.83,238.6h0.62M348.13,238.4h0.62M352.43,238.4h0.62M356.73,238.5h0.62M361.04,238.4h0.62M365.34,238.4h0.62M369.64,238.4h0.62M373.94,238.4h0.62M378.24,238.4h0.62M382.54,238.4h0.62M386.85,237.1h0.62M391.15,238.4h0.62M395.45,238.4h0.62M399.75,238.4h0.62M404.05,238.3h0.62M408.35,238.4h0.62M412.65,238.4h0.62M416.96,237.1h0.62M421.26,238.4h0.62M425.56,238.4h0.62M429.86,238.4h0.62M434.16,238.4h0.62M438.46,238.4h0.62M442.77,238.4h0.62M447.07,238.4h0.62M451.37,238.4h0.62M455.67,238.4h0.62M459.97,238.3h0.62M464.27,238.4h0.62M468.57,238.4h0.62M472.88,238.4h0.62M477.18,238.4h0.62M481.48,238.4h0.62M485.78,237.1h0.62M490.08,238.4h0.62M494.38,238.4h0.62M498.69,238.4h0.62M502.99,238.4h0.62M507.29,238.4h0.62M511.59,238.4h0.62M515.89,238.4h0.62M520.19,238.4h0.62M524.5,238.4h0.62M528.8,238.4h0.62M533.1,238.4h0.62M537.4,238.4h0.62M541.7,238.4h0.62M546,238.4h0.62M550.3,238.4h0.62M554.61,238.4h0.62M558.91,238.4h0.62M563.21,238.3h0.62M567.51,238.4h0.62M571.81,238.4h0.62M576.11,238.4h0.62M580.42,238.4h0.62M584.72,238.4h0.62M589.02,238.4h0.62M593.32,238.4h0.62M597.62,237.1h0.62M601.92,238.4h0.62M606.23,238.3h0.62M610.53,238.3h0.62M614.83,238.3h0.62M619.13,238.3h0.62M623.43,238.4h0.62M627.73,238.4h0.62M632.03,238.4h0.62M636.34,238.3h0.62M640.64,238.4h0.62M644.94,238.4h0.62M649.24,238.4h0.62M653.54,238.4h0.62M657.84,238.4h0.62M662.15,237.1h0.62M666.45,238.4h0.62M670.75,238.4h0.62M675.05,238.4h0.62M679.35,238.4h0.62M683.65,238.4h0.62M687.95,238.4h0.62M692.26,238.4h0.62M696.56,237.1h0.62M700.86,238.4h0.62" stroke="#e377c2" class="n"/>
<path d="M55.94,454.5L60.24,451.9L64.54,442.4L68.84,437.7L73.14,435.3L77.45,434.1L81.75,433.5L86.05,433.2L90.35,433L94.65,433L98.95,432.9L103.25,432.9L107.56,432.9L111.86,427.5L116.16,419.4L120.46,415.4L124.76,413.3L129.06,412.3L133.37,411.8L137.67,403.1L141.97,396.4L146.27,393L150.57,391.3L154.87,390.5L159.17,390.1L163.48,380.8L167.78,374.4L172.08,371.3L176.38,369.7L180.68,368.9L184.98,368.4L189.29,358.3L193.59,352.3L197.89,349.4L202.19,348L206.49,347.2L210.79,346.8L215.1,335.8L219.4,330.3L223.7,327.6L228,326.2L232.3,325.5L236.6,324.3L240.9,313.8L245.21,308.5L249.51,305.8L253.81,304.5L258.11,303.8L262.41,302.7L266.71,292.1L271.02,286.9L275.32,284.3L279.62,282.9L283.92,282.3L288.22,281.1L292.52,270.5L296.82,265.3L301.13,262.7L305.43,261.4L309.73,260.7L314.03,258.6L318.33,248.5L322.63,243.4L326.94,240.8L331.24,239.6L335.54,239L339.84,238.7L344.14,238.6L348.44,238.5L352.75,238.4L357.05,238.4L361.35,238.4L365.65,238.4L369.95,238.4L374.25,238.4L378.55,237L382.86,238.3L387.16,238.4L391.46,238.4L395.76,238.4L400.06,238.4L404.36,238.4L408.67,238.4L412.97,238.4L417.27,238.4L421.57,238.4L425.87,238.4L430.17,238.4L434.48,238.4L438.78,238.4L443.08,238.4L447.38,238.3L451.68,238.4L455.98,238.4L460.28,238.4L464.59,238.4L468.89,238.3L473.19,238.4L477.49,237.1L481.79,238.4L486.09,238.3L490.4,238.3L494.7,238.4L499,238.4L503.3,238.4L507.6,238.4L511.9,238.4L516.2,238.4L520.51,238.3L524.81,238.4L529.11,238.3L533.41,238.4L537.71,238.4L542.01,238.4L546.32,238.3L550.62,238.4L554.92,238.4L559.22,238.4L563.52,237.1L567.82,238.4L572.12,238.4L576.43,238.4L580.73,238.4L585.03,238.4L589.33,238.4L593.63,238.4L597.93,238.4L602.24,238.4L606.54,238.4L610.84,238.4L615.14,237.1L619.44,238.4L623.74,238.4L628.05,238.4L632.35,238.4L636.65,238.4L640.95,238.4L645.25,238.4L649.55,238.4L653.85,238.4L658.16,238.4L662.46,238.4L666.76,238.4L671.06,238.4L675.36,238.4L679.66,238.4L683.97,237.1L688.27,238.4L692.57,238.4L696.87,238.4L701.17,238.4L705.47,238.3" stroke="#7f7f7f"/>
<path d="M59.93,451.9h0.62M64.23,442.4h0.62M68.53,437.7h0.62M72.83,435.3h0.62M77.13,434.1h0.62M81.43,433.5h0.62M85.74,433.2h0.62M90.04,433h0.62M94.34,433h0.62M98.64,432.9h0.62M102.94,432.9h0.62M107.24,432.9h0.62M111.55,427.5h0.62M115.85,419.4h0.62M120.15,415.4h0.62M124.45,413.3h0.62M128.75,412.3h0.62M133.05,411.8h0.62M137.35,403.1h0.62M141.66,396.4h0.62M145.96,393h0.62M150.26,391.3h0.62M154.56,390.5h0.62M158.86,390.1h0.62M163.16,380.8h0.62M167.47,374.4h0.62M171.77,371.3h0.62M176.07,369.7h0.62M180.37,368.9h0.62M184.67,368.4h0.62M188.97,358.3h0.62M193.28,352.3h0.62M197.58,349.4h0.62M201.88,348h0.62M206.18,347.2h0.62M210.48,346.8h0.62M214.78,335.8h0.62M219.08,330.3h0.62M223.39,327.6h0.62M227.69,326.2h0.62M231.99,325.5h0.62M236.29,324.3h0.62M240.59,313.8h0.62M244.89,308.5h0.62M249.2,305.8h0.62M253.5,304.5h0.62M257.8,303.8h0.62M262.1,302.7h0.62M266.4,292.1h0.62M270.7,286.9h0.62M275,284.3h0.62M279.31,282.9h0.62M283.61,282.3h0.62M287.91,281.1h0.62M292.21,270.5h0.62M296.51,265.3h0.62M300.81,262.7h0.62M305.12,261.4h0.62M309.42,260.7h0.62M313.72,258.6h0.62M318.02,248.5h0.62M322.32,243.4h0.62M326.62,240.8h0.62M330.93,239.6h0.62M335.23,239h0.62M339.53,238.7h0.62M343.83,238.6h0.62M348.13,238.5h0.62M352.43,238.4h0.62M356.73,238.4h0.62M361.04,238.4h0.62M365.34,238.4h0.62M369.64,238.4h0.62M373.94,238.4h0.62M378.24,237h0.62M382.54,238.3h0.62M386.85,238.4h0.62M391.15,238.4h0.62M395.45,238.4h0.62M399.75,238.4h0.62M404.05,238.4h0.62M408.35,238.4h0.62M412.65,238.4h0.62M416.96,238.4h0.62M421.26,238.4h0.62M425.56,238.4h0.62M429.86,238.4h0.62M434.16,238.4h0.62M438.46,238.4h0.62M442.77,238.4h0.62M447.07,238.3h0.62M451.37,238.4h0.62M455.67,238.4h0.62M459.97,238.4h0.62M464.27,238.4h0.62M468.57,238.3h0.62M472.88,238.4h0.62M477.18,237.1h0.62M481.48,238.4h0.62M485.78,238.3h0.62M490.08,238.3h0.62M494.38,238.4h0.62M498.69,238.4h0.62M502.99,238.4h0.62M507.29,238.4h0.62M511.59,238.4h0.62M515.89,238.4h0.62M520.19,238.3h0.62M524.5,238.4h0.62M528.8,238.3h0.62M533.1,238.4h0.62M537.4,238.4h0.62M541.7,238.4h0.62M546,238.3h0.62M550.3,238.4h0.62M554.61,238.4h0.62M558.91,238.4h0.62M563.21,237.1h0.62M567.51,238.4h0.62M571.81,238.4h0.62M576.11,238.4h0.62M580.42,238.4h0.62M584.72,238.4h0.62M589.02,238.4h0.62M593.32,238.4h0.62M597.62,238.4h0.62M601.92,238.4h0.62M606.23,238.4h0.62M610.53,238.4h0.62M614.83,237.1h0.62M619.13,238.4h0.62M623.43,238.4h0.62M627.73,238.4h0.62M632.03,238.4h0.62M636.34,238.4h0.62M640.64,238.4h0.62M644.94,238.4h0.62M649.24,238.4h0.62M653.54,238.4h0.62M657.84,238.4h0.62M662.15,238.4h0.62M666.45,238.4h0.62M670.75,238.4h0.62M675.05,238.4h0.62M679.35,238.4h0.62M683.65,237.1h0.62M687.95,238.4h0.62M692.26,238.4h0.62M696.56,238.4h0.62M700.86,238.4h0.62" stroke="#7f7f7f" class="n"/>
<path d="M55.94,454.5L60.24,453L64.54,443L68.84,437.9L73.14,435.4L77.45,434.2L81.75,433.5L86.05,433.2L90.35,433L94.65,433L98.95,432.9L103.25,432.9L107.56,432.9L111.86,428.6L116.16,419.9L120.46,415.6L124.76,413.4L129.06,412.4L133.37,411.8L137.67,404.2L141.97,396.9L146.27,393.3L150.57,391.5L154.87,390.6L159.17,390.1L163.48,381.9L167.78,375L172.08,371.5L176.38,369.7L180.68,368.9L184.98,368.5L189.29,359.4L193.59,352.9L197.89,349.7L202.19,348.1L206.49,347.2L210.79,346.8L215.1,336.9L219.4,330.8L223.7,327.8L228,326.3L232.3,325.6L236.6,325.2L240.9,314.4L245.21,308.8L249.51,306L253.81,304.6L258.11,303.9L262.41,303.6L266.71,292.8L271.02,287.2L275.32,284.4L279.62,283L283.92,282.3L288.22,281.9L292.52,271.2L296.82,265.6L301.13,262.8L305.43,261.4L309.73,260.7L314.03,259.7L318.33,249L322.63,243.7L326.94,241L331.24,239.7L335.54,239.1L339.84,238.7L344.14,238.6L348.44,238.5L352.75,238.4L357.05,238.4L361.35,238.4L365.65,238.4L369.95,238.4L374.25,238.4L378.55,238.4L382.86,237.2L387.16,238.4L391.46,238.4L395.76,238.4L400.06,238.4L404.36,238.4L408.67,237.3L412.97,238.4L417.27,238.4L421.57,238.4L425.87,238.4L430.17,238.4L434.48,238.4L438.78,238.4L443.08,238.4L447.38,238.4L451.68,238.4L455.98,238.4L460.28,238.4L464.59,238.4L468.89,238.4L473.19,238.4L477.49,238.3L481.79,238.3L486.09,238.3L490.4,238.4L494.7,238.3L499,238.4L503.3,237.2L507.6,238.3L511.9,238.4L516.2,238.4L520.51,238.3L524.81,238.4L529.11,238.4L533.41,238.4L537.71,238.4L542.01,238.4L546.32,238.4L550.62,238.4L554.92,238.4L559.22,238.4L563.52,238.4L567.82,238.4L572.12,238.4L576.43,238.4L580.73,238.4L585.03,238.4L589.33,237.3L593.63,238.4L597.93,238.4L602.24,238.4L606.54,238.3L610.84,238.4L615.14,238.4L619.44,238.4L623.74,238.4L628.05,238.4L632.35,238.4L636.65,238.4L640.95,237.2L645.25,238.4L649.55,238.3L653.85,238.4L658.16,238.3L662.46,238.4L666.76,238.4L671.06,238.4L675.36,238.4L679.66,238.3L683.97,238.4L688.27,238.4L692.57,238.4L696.87,238.4L701.17,237.2L705.47,238.4" stroke="#bcbd22"/>
<path d="M59.93,453h0.62M64.23,443h0.62M68.53,437.9h0.62M72.83,435.4h0.62M77.13,434.2h0.62M81.43,433.5h0.62M85.74,433.2h0.62M90.04,433h0.62M94.34,433h0.62M98.64,432.9h0.62M102.94,432.9h0.62M107.24,432.9h0.62M111.55,428.6h0.62M115.85,419.9h0.62M120.15,415.6h0.62M124.45,413.4h0.62M128.75,412.4h0.62M133.05,411.8h0.62M137.35,404.2h0.62M141.66,396.9h0.62M145.96,393.3h0.62M150.26,391.5h0.62M154.56,390.6h0.62M158.86,390.1h0.62M163.16,381.9h0.62M167.47,375h0.62M171.77,371.5h0.62M176.07,369.7h0.62M180.37,368.9h0.62M184.67,368.5h0.62M188.97,359.4h0.62M193.28,352.9h0.62M197.58,349.7h0.62M201.88,348.1h0.62M206.18,347.2h0.62M210.48,346.8h0.62M214.78,336.9h0.62M219.08,330.8h0.62M223.39,327.8h0.62M227.69,326.3h0.62M231.99,325.6h0.62M236.29,325.2h0.62M240.59,314.4h0.62M244.89,308.8h0.62M249.2,306h0.62M253.5,304.6h0.62M257.8,303.9h0.62M262.1,303.6h0.62M266.4,292.8h0.62M270.7,287.2h0.62M275,284.4h0.62M279.31,283h0.62M283.61,282.3h0.62M287.91,281.9h0.62M292.21,271.2h0.62M296.51,265.6h0.62M300.81,262.8h0.62M305.12,261.4h0.62M309.42,260.7h0.62M313.72,259.7h0.62M318.02,249h0.62M322.32,243.7h0.62M326.62,241h0.62M330.93,239.7h0.62M335.23,239.1h0.62M339.53,238.7h0.62M343.83,238.6h0.62M348.13,238.5h0.62M352.43,238.4h0.62M356.73,238.4h0.62M361.04,238.4h0.62M365.34,238.4h0.62M369.64,238.4h0.62M373.94,238.4h0.62M378.24,238.4h0.62M382.54,237.2h0.62M386.85,238.4h0.62M391.15,238.4h0.62M395.45,238.4h0.62M399.75,238.4h0.62M404.05,238.4h0.62M408.35,237.3h0.62M412.65,238.4h0.62M416.96,238.4h0.62M421.26,238.4h0.62M425.56,238.4h0.62M429.86,238.4h0.62M434.16,238.4h0.62M438.46,238.4h0.62M442.77,238.4h0.62M447.07,238.4h0.62M451.37,238.4h0.62M455.67,238.4h0.62M459.97,238.4h0.62M464.27,238.4h0.62M468.57,238.4h0.62M472.88,238.4h0.62M477.18,238.3h0.62M481.48,238.3h0.62M485.78,238.3h0.62M490.08,238.4h0.62M494.38,238.3h0.62M498.69,238.4h0.62M502.99,237.2h0.62M507.29,238.3h0.62M511.59,238.4h0.62M515.89,238.4h0.62M520.19,238.3h0.62M524.5,238.4h0.62M528.8,238.4h0.62M533.1,238.4h0.62M537.4,238.4h0.62M541.7,238.4h0.62M546,238.4h0.62M550.3,238.4h0.62M554.61,238.4h0.62M558.91,238.4h0.62M563.21,238.4h0.62M567.51,238.4h0.62M571.81,238.4h0.62M576.11,238.4h0.62M580.42,238.4h0.62M584.72,238.4h0.62M589.02,237.3h0.62M593.32,238.4h0.62M597.62,238.4h0.62M601.92,238.4h0.62M606.23,238.3h0.62M610.53,238.4h0.62M614.83,238.4h0.62M619.13,238.4h0.62M623.43,238.4h0.62M627.73,238.4h0.62M632.03,238.4h0.62M636.34,238.4h0.62M640.64,237.2h0.62M644.94,238.4h0.62M649.24,238.3h0.62M653.54,238.4h0.62M657.84,238.3h0.62M662.15,238.4h0.62M666.45,238.4h0.62M670.75,238.4h0.62M675.05,238.4h0.62M679.35,238.3h0.62M683.65,238.4h0.62M687.95,238.4h0.62M692.26,238.4h0.62M696.56,238.4h0.62M700.86,237.2h0.62" stroke="#bcbd22" class="n"/>
<path d="M55.94,454.5L60.24,453.9L64.54,443.4L68.84,438.2L73.14,435.5L77.45,434.1L81.75,433.5L86.05,433.2L90.35,433.1L94.65,433L98.95,433L103.25,433L107.56,432.9L111.86,429.5L116.16,420.4L120.46,415.8L124.76,413.6L129.06,412.5L133.37,411.8L137.67,405.1L141.97,397.5L146.27,393.6L150.57,391.7L154.87,390.7L159.17,390.2L163.48,382.8L167.78,375.4L172.08,371.8L176.38,369.9L180.68,369L184.98,368.6L189.29,360.3L193.59,353.4L197.89,350L202.19,348.3L206.49,347.3L210.79,346.8L215.1,337.7L219.4,331.3L223.7,328.1L228,326.5L232.3,325.7L236.6,325.2L240.9,315.3L245.21,309.3L249.51,306.2L253.81,304.7L258.11,303.9L262.41,303.6L266.71,293.6L271.02,287.7L275.32,284.6L279.62,283.1L283.92,282.4L288.22,282.1L292.52,272.1L296.82,266.1L301.13,263L305.43,261.5L309.73,260.8L314.03,260.4L318.33,249.6L322.63,244L326.94,239.9L331.24,239.1L335.54,238.8L339.84,238.6L344.14,227.9L348.44,222.4L352.75,218.8L357.05,217.8L361.35,217.2L365.65,217.1L369.95,208.7L374.25,204.5L378.55,202.4L382.86,201.3L387.16,200.8L391.46,200.6L395.76,199.9L400.06,199.6L404.36,199.4L408.67,199.3L412.97,199.2L417.27,199.1L421.57,199.1L425.87,199.1L430.17,199.2L434.48,199.1L438.78,199.2L443.08,199.1L447.38,199.1L451.68,199.2L455.98,199.1L460.28,199.1L464.59,199.2L468.89,199.1L473.19,199.2L477.49,199.2L481.79,199.2L486.09,199.1L490.4,199.1L494.7,199.1L499,199.1L503.3,199.1L507.6,199.1L511.9,199.2L516.2,199.1L520.51,199.1L524.81,198.4L529.11,198.4L533.41,198.3L537.71,198.4L542.01,198.4L546.32,198.4L550.62,198.3L554.92,198.4L559.22,198.4L563.52,198.4L567.82,198.4L572.12,198.5L576.43,199.2L580.73,199.2L585.03,199.1L589.33,199.9L593.63,199.7L597.93,199.7L602.24,199.6L606.54,199.6L610.84,199.6L615.14,199.7L619.44,199.7L623.74,199.6L628.05,199.6L632.35,199.6L636.65,199.5L640.95,199.6L645.25,199.6L649.55,199.6L653.85,199.6L658.16,199.5L662.46,199.5L666.76,199.6L671.06,199.5L675.36,199.5L679.66,199.5L683.97,199.6L688.27,199.6L692.57,199.7L696.87,199.7L701.17,200.3L705.47,200.4" stroke="#17becf"/>
<path d="M59.93,453.9h0.62M64.23,443.4h0.62M68.53,438.2h0.62M72.83,435.5h0.62M77.13,434.1h0.62M81.43,433.5h0.62M85.74,433.2h0.62M90.04,433.1h0.62M94.34,433h0.62M98.64,433h0.62M102.94,433h0.62M107.24,432.9h0.62M111.55,429.5h0.62M115.85,420.4h0.62M120.15,415.8h0.62M124.45,413.6h0.62M128.75,412.5h0.62M133.05,411.8h0.62M137.35,405.1h0.62M141.66,397.5h0.62M145.96,393.6h0.62M150.26,391.7h0.62M154.56,390.7h0.62M158.86,390.2h0.62M163.16,382.8h0.62M167.47,375.4h0.62M171.77,371.8h0.62M176.07,369.9h0.62M180.37,369h0.62M184.67,368.6h0.62M188.97,360.3h0.62M193.28,353.4h0.62M197.58,350h0.62M201.88,348.3h0.62M206.18,347.3h0.62M210.48,346.8h0.62M214.78,337.7h0.62M219.08,331.3h0.62M223.39,328.1h0.62M227.69,326.5h0.62M231.99,325.7h0.62M236.29,325.2h0.62M240.59,315.3h0.62M244.89,309.3h0.62M249.2,306.2h0.62M253.5,304.7h0.62M257.8,303.9h0.62M262.1,303.6h0.62M266.4,293.6h0.62M270.7,287.7h0.62M275,284.6h0.62M279.31,283.1h0.62M283.61,282.4h0.62M287.91,282.1h0.62M292.21,272.1h0.62M296.51,266.1h0.62M300.81,263h0.62M305.12,261.5h0.62M309.42,260.8h0.62M313.72,260.4h0.62M318.02,249.6h0.62M322.32,244h0.62M326.62,239.9h0.62M330.93,239.1h0.62M335.23,238.8h0.62M339.53,238.6h0.62M343.83,227.9h0.62M348.13,222.4h0.62M352.43,218.8h0.62M356.73,217.8h0.62M361.04,217.2h0.62M365.34,217.1h0.62M369.64,208.7h0.62M373.94,204.5h0.62M378.24,202.4h0.62M382.54,201.3h0.62M386.85,200.8h0.62M391.15,200.6h0.62M395.45,199.9h0.62M399.75,199.6h0.62M404.05,199.4h0.62M408.35,199.3h0.62M412.65,199.2h0.62M416.96,199.1h0.62M421.26,199.1h0.62M425.56,199.1h0.62M429.86,199.2h0.62M434.16,199.1h0.62M438.46,199.2h0.62M442.77,199.1h0.62M447.07,199.1h0.62M451.37,199.2h0.62M455.67,199.1h0.62M459.97,199.1h0.62M464.27,199.2h0.62M468.57,199.1h0.62M472.88,199.2h0.62M477.18,199.2h0.62M481.48,199.2h0.62M485.78,199.1h0.62M490.08,199.1h0.62M494.38,199.1h0.62M498.69,199.1h0.62M502.99,199.1h0.62M507.29,199.1h0.62M511.59,199.2h0.62M515.89,199.1h0.62M520.19,199.1h0.62M524.5,198.4h0.62M528.8,198.4h0.62M533.1,198.3h0.62M537.4,198.4h0.62M541.7,198.4h0.62M546,198.4h0.62M550.3,198.3h0.62M554.61,198.4h0.62M558.91,198.4h0.62M563.21,198.4h0.62M567.51,198.4h0.62M571.81,198.5h0.62M576.11,199.2h0.62M580.42,199.2h0.62M584.72,199.1h0.62M589.02,199.9h0.62M593.32,199.7h0.62M597.62,199.7h0.62M601.92,199.6h0.62M606.23,199.6h0.62M610.53,199.6h0.62M614.83,199.7h0.62M619.13,199.7h0.62M623.43,199.6h0.62M627.73,199.6h0.62M632.03,199.6h0.62M636.34,199.5h0.62M640.64,199.6h0.62M644.94,199.6h0.62M649.24,199.6h0.62M653.54,199.6h0.62M657.84,199.5h0.62M662.15,199.5h0.62M666.45,199.6h0.62M670.75,199.5h0.62M675.05,199.5h0.62M679.35,199.5h0.62M683.65,199.6h0.62M687.95,199.6h0.62M692.26,199.7h0.62M696.56,199.7h0.62M700.86,200.3h0.62" stroke="#17becf" class="n"/>
<path d="M55.94,454.5L60.24,453.6L64.54,443.2L68.84,438L73.14,435.5L77.45,434.2L81.75,433.6L86.05,433.2L90.35,433.1L94.65,433L98.95,433L103.25,433L107.56,433L111.86,429.3L116.16,420.3L120.46,415.8L124.76,413.6L129.06,412.3L133.37,411.8L137.67,404.8L141.97,397.2L146.27,393.5L150.57,391.6L154.87,390.6L159.17,390.1L163.48,382.6L167.78,375.3L172.08,371.7L176.38,369.9L180.68,368.9L184.98,368.5L189.29,360L193.59,353.3L197.89,349.9L202.19,348.2L206.49,347.3L210.79,346.8L215.1,337.6L219.4,331.2L223.7,328L228,326.4L232.3,325.7L236.6,325.2L240.9,315.1L245.21,309.1L249.51,306.2L253.81,304.6L258.11,304L262.41,303.6L266.71,293.5L271.02,287.5L275.32,284.6L279.62,283.1L283.92,282.4L288.22,282L292.52,271.8L296.82,265.9L301.13,262.9L305.43,261.5L309.73,260.7L314.03,260.4L318.33,249.3L322.63,243.9L326.94,239.9L331.24,239.2L335.54,238.8L339.84,238.6L344.14,227.6L348.44,222.2L352.75,218.8L357.05,217.7L361.35,217.3L365.65,217L369.95,208.7L374.25,204.5L378.55,202.4L382.86,201.3L387.16,200.8L391.46,200.6L395.76,199.9L400.06,199.5L404.36,199.3L408.67,199.2L412.97,199.2L417.27,199.2L421.57,199.1L425.87,199.1L430.17,199.2L434.48,199.2L438.78,199.1L443.08,199.2L447.38,199.2L451.68,199.2L455.98,199.1L460.28,199.1L464.59,199.2L468.89,199.2L473.19,199.2L477.49,198.3L481.79,198.5L486.09,199.2L490.4,199.2L494.7,199.2L499,199.1L503.3,199.1L507.6,199.2L511.9,199.1L516.2,199.2L520.51,199.2L524.81,199.8L529.11,199.8L533.41,199.8L537.71,199.9L542.01,199.9L546.32,199.9L550.62,199.9L554.92,199.9L559.22,199.9L563.52,200L567.82,199.9L572.12,199.9L576.43,199.1L580.73,199.1L585.03,199.1L589.33,200.2L593.63,199.6L597.93,199.6L602.24,199.6L606.54,199.6L610.84,199.5L615.14,199.6L619.44,199.6L623.74,199.5L628.05,199.6L632.35,199.6L636.65,199.6L640.95,199.5L645.25,199.5L649.55,199.5L653.85,199.5L658.16,199.5L662.46,199.5L666.76,199.6L671.06,199.6L675.36,199.6L679.66,199.6L683.97,199.6L688.27,199.6L692.57,199.5L696.87,199.5L701.17,199.6L705.47,199.6" stroke="#1f77b4"/>
<path d="M59.93,453.6h0.62M64.23,443.2h0.62M68.53,438h0.62M72.83,435.5h0.62M77.13,434.2h0.62M81.43,433.6h0.62M85.74,433.2h0.62M90.04,433.1h0.62M94.34,433h0.62M98.64,433h0.62M102.94,433h0.62M107.24,433h0.62M111.55,429.3h0.62M115.85,420.3h0.62M120.15,415.8h0.62M124.45,413.6h0.62M128.75,412.3h0.62M133.05,411.8h0.62M137.35,404.8h0.62M141.66,397.2h0.62M145.96,393.5h0.62M150.26,391.6h0.62M154.56,390.6h0.62M158.86,390.1h0.62M163.16,382.6h0.62M167.47,375.3h0.62M171.77,371.7h0.62M176.07,369.9h0.62M180.37,368.9h0.62M184.67,368.5h0.62M188.97,360h0.62M193.28,353.3h0.62M197.58,349.9h0.62M201.88,348.2h0.62M206.18,347.3h0.62M210.48,346.8h0.62M214.78,337.6h0.62M219.08,331.2h0.62M223.39,328h0.62M227.69,326.4h0.62M231.99,325.7h0.62M236.29,325.2h0.62M240.59,315.1h0.62M244.89,309.1h0.62M249.2,306.2h0.62M253.5,304.6h0.62M257.8,304h0.62M262.1,303.6h0.62M266.4,293.5h0.62M270.7,287.5h0.62M275,284.6h0.62M279.31,283.1h0.62M283.61,282.4h0.62M287.91,282h0.62M292.21,271.8h0.62M296.51,265.9h0.62M300.81,262.9h0.62M305.12,261.5h0.62M309.42,260.7h0.62M313.72,260.4h0.62M318.02,249.3h0.62M322.32,243.9h0.62M326.62,239.9h0.62M330.93,239.2h0.62M335.23,238.8h0.62M339.53,238.6h0.62M343.83,227.6h0.62M348.13,222.2h0.62M352.43,218.8h0.62M356.73,217.7h0.62M361.04,217.3h0.62M365.34,217h0.62M369.64,208.7h0.62M373.94,204.5h0.62M378.24,202.4h0.62M382.54,201.3h0.62M386.85,200.8h0.62M391.15,200.6h0.62M395.45,199.9h0.62M399.75,199.5h0.62M404.05,199.3h0.62M408.35,199.2h0.62M412.65,199.2h0.62M416.96,199.2h0.62M421.26,199.1h0.62M425.56,199.1h0.62M429.86,199.2h0.62M434.16,199.2h0.62M438.46,199.1h0.62M442.77,199.2h0.62M447.07,199.2h0.62M451.37,199.2h0.62M455.67,199.1h0.62M459.97,199.1h0.62M464.27,199.2h0.62M468.57,199.2h0.62M472.88,199.2h0.62M477.18,198.3h0.62M481.48,198.5h0.62M485.78,199.2h0.62M490.08,199.2h0.62M494.38,199.2h0.62M498.69,199.1h0.62M502.99,199.1h0.62M507.29,199.2h0.62M511.59,199.1h0.62M515.89,199.2h0.62M520.19,199.2h0.62M524.5,199.8h0.62M528.8,199.8h0.62M533.1,199.8h0.62M537.4,199.9h0.62M541.7,199.9h0.62M546,199.9h0.62M550.3,199.9h0.62M554.61,199.9h0.62M558.91,199.9h0.62M563.21,200h0.62M567.51,199.9h0.62M571.81,199.9h0.62M576.11,199.1h0.62M580.42,199.1h0.62M584.72,199.1h0.62M589.02,200.2h0.62M593.32,199.6h0.62M597.62,199.6h0.62M601.92,199.6h0.62M606.23,199.6h0.62M610.53,199.5h0.62M614.83,199.6h0.62M619.13,199.6h0.62M623.43,199.5h0.62M627.73,199.6h0.62M632.03,199.6h0.62M636.34,199.6h0.62M640.64,199.5h0.62M644.94,199.5h0.62M649.24,199.5h0.62M653.54,199.5h0.62M657.84,199.5h0.62M662.15,199.5h0.62M666.45,199.6h0.62M670.75,199.6h0.62M675.05,199.6h0.62M679.35,199.6h0.62M683.65,199.6h0.62M687.95,199.6h0.62M692.26,199.5h0.62M696.56,199.5h0.62M700.86,199.6h0.62" stroke="#1f77b4" class="n"/>
<path d="M55.94,454.5L60.24,452.8L64.54,442.8L68.84,437.9L73.14,435.4L77.45,434.1L81.75,433.5L86.05,433.2L90.35,433L94.65,433L98.95,432.9L103.25,432.9L107.56,432.9L111.86,428.4L116.16,419.8L120.46,415.5L124.76,413.4L129.06,412.3L133.37,411.8L137.67,404L141.97,396.8L146.27,393.2L150.57,391.5L154.87,390.6L159.17,390.1L163.48,381.7L167.78,374.9L172.08,371.5L176.38,369.8L180.68,368.9L184.98,368.5L189.29,359.2L193.59,352.8L197.89,349.6L202.19,348L206.49,347.2L210.79,346.8L215.1,336.7L219.4,330.8L223.7,327.8L228,326.3L232.3,325.6L236.6,325.2L240.9,314.2L245.21,308.7L249.51,306L253.81,304.6L258.11,303.9L262.41,303.6L266.71,292.6L271.02,287.1L275.32,284.4L279.62,283L283.92,282.3L288.22,281.9L292.52,271L296.82,265.5L301.13,262.7L305.43,261.4L309.73,260.7L314.03,259.5L318.33,248.9L322.63,243.7L326.94,239.8L331.24,239.1L335.54,238.7L339.84,237.7L344.14,227.2L348.44,222L352.75,218.7L357.05,217.7L361.35,217.2L365.65,216.1L369.95,205.7L374.25,200.4L378.55,197.8L382.86,196L387.16,194.7L391.46,194.3L395.76,183.9L400.06,178.7L404.36,175.6L408.67,174.6L412.97,174.1L417.27,172.9L421.57,162.4L425.87,157.2L430.17,152.7L434.48,152.3L438.78,152.1L443.08,151.2L447.38,140.7L451.68,135.5L455.98,131.6L460.28,130.9L464.59,130.6L468.89,129.6L473.19,117.1L477.49,112.9L481.79,110.8L486.09,109.8L490.4,109.2L494.7,108.1L499,97.6L503.3,92.4L507.6,89.7L511.9,86.2L516.2,86.7L520.51,86.3L524.81,76L529.11,70.9L533.41,68.3L537.71,65.2L542.01,65.5L546.32,65.2L550.62,54.7L554.92,49.4L559.22,46.8L563.52,45.5L567.82,44.8L572.12,44L576.43,33.7L580.73,29.6L585.03,29.4L589.33,25.7L593.63,26.3L597.93,26.6L602.24,26.8L606.54,26.8L610.84,26.8L615.14,24.4L619.44,25.7L623.74,26.1L628.05,26.4L632.35,26.6L636.65,26.7L640.95,26.7L645.25,26.7L649.55,24.4L653.85,25.4L658.16,26L662.46,26.4L666.76,26.6L671.06,26.7L675.36,26.7L679.66,24.5L683.97,25.5L688.27,26.3L692.57,26.7L696.87,25.9L701.17,25.6L705.47,25.9" stroke="#ff7f0e"/>
<path d="M59.93,452.8h0.62M64.23,442.8h0.62M68.53,437.9h0.62M72.83,435.4h0.62M77.13,434.1h0.62M81.43,433.5h0.62M85.74,433.2h0.62M90.04,433h0.62M94.34,433h0.62M98.64,432.9h0.62M102.94,432.9h0.62M107.24,432.9h0.62M111.55,428.4h0.62M115.85,419.8h0.62M120.15,415.5h0.62M124.45,413.4h0.62M128.75,412.3h0.62M133.05,411.8h0.62M137.35,404h0.62M141.66,396.8h0.62M145.96,393.2h0.62M150.26,391.5h0.62M154.56,390.6h0.62M158.86,390.1h0.62M163.16,381.7h0.62M167.47,374.9h0.62M171.77,371.5h0.62M176.07,369.8h0.62M180.37,368.9h0.62M184.67,368.5h0.62M188.97,359.2h0.62M193.28,352.8h0.62M197.58,349.6h0.62M201.88,348h0.62M206.18,347.2h0.62M210.48,346.8h0.62M214.78,336.7h0.62M219.08,330.8h0.62M223.39,327.8h0.62M227.69,326.3h0.62M231.99,325.6h0.62M236.29,325.2h0.62M240.59,314.2h0.62M244.89,308.7h0.62M249.2,306h0.62M253.5,304.6h0.62M257.8,303.9h0.62M262.1,303.6h0.62M266.4,292.6h0.62M270.7,287.1h0.62M275,284.4h0.62M279.31,283h0.62M283.61,282.3h0.62M287.91,281.9h0.62M292.21,271h0.62M296.51,265.5h0.62M300.81,262.7h0.62M305.12,261.4h0.62M309.42,260.7h0.62M313.72,259.5h0.62M318.02,248.9h0.62M322.32,243.7h0.62M326.62,239.8h0.62M330.93,239.1h0.62M335.23,238.7h0.62M339.53,237.7h0.62M343.83,227.2h0.62M348.13,222h0.62M352.43,218.7h0.62M356.73,217.7h0.62M361.04,217.2h0.62M365.34,216.1h0.62M369.64,205.7h0.62M373.94,200.4h0.62M378.24,197.8h0.62M382.54,196h0.62M386.85,194.7h0.62M391.15,194.3h0.62M395.45,183.9h0.62M399.75,178.7h0.62M404.05,175.6h0.62M408.35,174.6h0.62M412.65,174.1h0.62M416.96,172.9h0.62M421.26,162.4h0.62M425.56,157.2h0.62M429.86,152.7h0.62M434.16,152.3h0.62M438.46,152.1h0.62M442.77,151.2h0.62M447.07,140.7h0.62M451.37,135.5h0.62M455.67,131.6h0.62M459.97,130.9h0.62M464.27,130.6h0.62M468.57,129.6h0.62M472.88,117.1h0.62M477.18,112.9h0.62M481.48,110.8h0.62M485.78,109.8h0.62M490.08,109.2h0.62M494.38,108.1h0.62M498.69,97.6h0.62M502.99,92.4h0.62M507.29,89.7h0.62M511.59,86.2h0.62M515.89,86.7h0.62M520.19,86.3h0.62M524.5,76h0.62M528.8,70.9h0.62M533.1,68.3h0.62M537.4,65.2h0.62M541.7,65.5h0.62M546,65.2h0.62M550.3,54.7h0.62M554.61,49.4h0.62M558.91,46.8h0.62M563.21,45.5h0.62M567.51,44.8h0.62M571.81,44h0.62M576.11,33.7h0.62M580.42,29.6h0.62M584.72,29.4h0.62M589.02,25.7h0.62M593.32,26.3h0.62M597.62,26.6h0.62M601.92,26.8h0.62M606.23,26.8h0.62M610.53,26.8h0.62M614.83,24.4h0.62M619.13,25.7h0.62M623.43,26.1h0.62M627.73,26.4h0.62M632.03,26.6h0.62M636.34,26.7h0.62M640.64,26.7h0.62M644.94,26.7h0.62M649.24,24.4h0.62M653.54,25.4h0.62M657.84,26h0.62M662.15,26.4h0.62M666.45,26.6h0.62M670.75,26.7h0.62M675.05,26.7h0.62M679.35,24.5h0.62M683.65,25.5h0.62M687.95,26.3h0.62M692.26,26.7h0.62M696.56,25.9h0.62M700.86,25.6h0.62" stroke="#ff7f0e" class="n"/>
<path d="M55.94,454.5L60.24,453.4L64.54,443.1L68.84,438L73.14,435.4L77.45,434.1L81.75,433.5L86.05,433.2L90.35,433L94.65,433L98.95,432.9L103.25,432.8L107.56,432.9L111.86,429L116.16,420.2L120.46,415.7L124.76,413.4L129.06,412.3L133.37,411.9L137.67,404.6L141.97,397.1L146.27,393.4L150.57,391.5L154.87,390.6L159.17,390.1L163.48,384.9L167.78,382.3L172.08,381L176.38,380.4L180.68,380.1L184.98,379.9L189.29,379.8L193.59,379.8L197.89,379.7L202.19,379.8L206.49,379.8L210.79,379.8L215.1,379.8L219.4,379.8L223.7,379.8L228,379.8L232.3,379.7L236.6,379.8L240.9,379.8L245.21,379.8L249.51,379.7L253.81,379.7L258.11,379.7L262.41,379.8L266.71,379.7L271.02,379.7L275.32,379.8L279.62,379.8L283.92,379.7L288.22,379.7L292.52,379.7L296.82,379.7L301.13,379.7L305.43,379.8L309.73,379.7L314.03,379.7L318.33,379.7L322.63,379.7L326.94,379.7L331.24,379.7L335.54,379.8L339.84,379.7L344.14,379.8L348.44,379.7L352.75,379.8L357.05,379.7L361.35,379.8L365.65,379.8L369.95,379.8L374.25,379.8L378.55,379.8L382.86,379.9L387.16,379.8L391.46,379.8L395.76,379.8L400.06,379.8L404.36,379.8L408.67,379.8L412.97,379.7L417.27,379.7L421.57,379.8L425.87,379.7L430.17,379.7L434.48,379.8L438.78,379.7L443.08,379.7L447.38,379.7L451.68,379.8L455.98,379.7L460.28,379.7L464.59,379.8L468.89,379.8L473.19,379.7L477.49,379.7L481.79,379.8L486.09,379.8L490.4,379.8L494.7,379.8L499,379.8L503.3,379.8L507.6,379.8L511.9,379.7L516.2,379.7L520.51,379.8L524.81,379.7L529.11,379.7L533.41,379.7L537.71,379.7L542.01,379.7L546.32,379.7L550.62,379.7L554.92,379.7L559.22,379.7L563.52,379.7L567.82,379.7L572.12,379.7L576.43,379.7L580.73,379.7L585.03,379.8L589.33,379.8L593.63,379.8L597.93,379.8L602.24,379.8L606.54,379.8L610.84,379.8L615.14,379.8L619.44,379.8L623.74,379.8L628.05,379.7L632.35,379.8L636.65,379.7L640.95,379.7L645.25,379.7L649.55,379.7L653.85,379.7L658.16,379.7L662.46,379.8L666.76,379.7L671.06,379.8L675.36,379.7L679.66,379.7L683.97,379.8L688.27,379.8L692.57,379.7L696.87,379.7L701.17,379.7L705.47,379.7" stroke="#2ca02c"/>
<path d="M59.93,453.4h0.62M64.23,443.1h0.62M68.53,438h0.62M72.83,435.4h0.62M77.13,434.1h0.62M81.43,433.5h0.62M85.74,433.2h0.62M90.04,433h0.62M94.34,433h0.62M98.64,432.9h0.62M102.94,432.8h0.62M107.24,432.9h0.62M111.55,429h0.62M115.85,420.2h0.62M120.15,415.7h0.62M124.45,413.4h0.62M128.75,412.3h0.62M133.05,411.9h0.62M137.35,404.6h0.62M141.66,397.1h0.62M145.96,393.4h0.62M150.26,391.5h0.62M154.56,390.6h0.62M158.86,390.1h0.62M163.16,384.9h0.62M167.47,382.3h0.62M171.77,381h0.62M176.07,380.4h0.62M180.37,380.1h0.62M184.67,379.9h0.62M188.97,379.8h0.62M193.28,379.8h0.62M197.58,379.7h0.62M201.88,379.8h0.62M206.18,379.8h0.62M210.48,379.8h0.62M214.78,379.8h0.62M219.08,379.8h0.62M223.39,379.8h0.62M227.69,379.8h0.62M231.99,379.7h0.62M236.29,379.8h0.62M240.59,379.8h0.62M244.89,379.8h0.62M249.2,379.7h0.62M253.5,379.7h0.62M257.8,379.7h0.62M262.1,379.8h0.62M266.4,379.7h0.62M270.7,379.7h0.62M275,379.8h0.62M279.31,379.8h0.62M283.61,379.7h0.62M287.91,379.7h0.62M292.21,379.7h0.62M296.51,379.7h0.62M300.81,379.7h0.62M305.12,379.8h0.62M309.42,379.7h0.62M313.72,379.7h0.62M318.02,379.7h0.62M322.32,379.7h0.62M326.62,379.7h0.62M330.93,379.7h0.62M335.23,379.8h0.62M339.53,379.7h0.62M343.83,379.8h0.62M348.13,379.7h0.62M352.43,379.8h0.62M356.73,379.7h0.62M361.04,379.8h0.62M365.34,379.8h0.62M369.64,379.8h0.62M373.94,379.8h0.62M378.24,379.8h0.62M382.54,379.9h0.62M386.85,379.8h0.62M391.15,379.8h0.62M395.45,379.8h0.62M399.75,379.8h0.62M404.05,379.8h0.62M408.35,379.8h0.62M412.65,379.7h0.62M416.96,379.7h0.62M421.26,379.8h0.62M425.56,379.7h0.62M429.86,379.7h0.62M434.16,379.8h0.62M438.46,379.7h0.62M442.77,379.7h0.62M447.07,379.7h0.62M451.37,379.8h0.62M455.67,379.7h0.62M459.97,379.7h0.62M464.27,379.8h0.62M468.57,379.8h0.62M472.88,379.7h0.62M477.18,379.7h0.62M481.48,379.8h0.62M485.78,379.8h0.62M490.08,379.8h0.62M494.38,379.8h0.62M498.69,379.8h0.62M502.99,379.8h0.62M507.29,379.8h0.62M511.59,379.7h0.62M515.89,379.7h0.62M520.19,379.8h0.62M524.5,379.7h0.62M528.8,379.7h0.62M533.1,379.7h0.62M537.4,379.7h0.62M541.7,379.7h0.62M546,379.7h0.62M550.3,379.7h0.62M554.61,379.7h0.62M558.91,379.7h0.62M563.21,379.7h0.62M567.51,379.7h0.62M571.81,379.7h0.62M576.11,379.7h0.62M580.42,379.7h0.62M584.72,379.8h0.62M589.02,379.8h0.62M593.32,379.8h0.62M597.62,379.8h0.62M601.92,379.8h0.62M606.23,379.8h0.62M610.53,379.8h0.62M614.83,379.8h0.62M619.13,379.8h0.62M623.43,379.8h0.62M627.73,379.7h0.62M632.03,379.8h0.62M636.34,379.7h0.62M640.64,379.7h0.62M644.94,379.7h0.62M649.24,379.7h0.62M653.54,379.7h0.62M657.84,379.7h0.62M662.15,379.8h0.62M666.45,379.7h0.62M670.75,379.8h0.62M675.05,379.7h0.62M679.35,379.7h0.62M683.65,379.8h0.62M687.95,379.8h0.62M692.26,379.7h0.62M696.56,379.7h0.62M700.86,379.7h0.62" stroke="#2ca02c" class="n"/>
<path d="M55.94,454.5L60.24,452.8L64.54,442.8L68.84,437.7L73.14,435.5L77.45,434.1L81.75,433.5L86.05,433.2L90.35,432.9L94.65,433L98.95,432.9L103.25,432.9L107.56,432.8L111.86,428.4L116.16,419.9L120.46,415.6L124.76,413.4L129.06,412.3L133.37,411.8L137.67,403.9L141.97,396.8L146.27,393.2L150.57,391.5L154.87,390.6L159.17,390L163.48,381.6L167.78,374.7L172.08,371.4L176.38,369.8L180.68,369L184.98,368.5L189.29,364.1L193.59,361.9L197.89,361L202.19,360.4L206.49,360L210.79,359.9L215.1,360L219.4,360L223.7,360.1L228,360L232.3,359.8L236.6,359.8L240.9,359.8L245.21,359.7L249.51,359.7L253.81,359.7L258.11,359.8L262.41,359.8L266.71,359.8L271.02,359.8L275.32,359.8L279.62,359.9L283.92,359.8L288.22,359.8L292.52,359.8L296.82,359.9L301.13,360L305.43,360.1L309.73,359.9L314.03,359.7L318.33,359.7L322.63,359.8L326.94,359.8L331.24,359.7L335.54,359.8L339.84,359.9L344.14,359.9L348.44,359.9L352.75,359.9L357.05,359.9L361.35,359.8L365.65,359.7L369.95,359.9L374.25,359.9L378.55,360L382.86,360L387.16,359.9L391.46,359.8L395.76,359.7L400.06,359.8L404.36,360L408.67,359.9L412.97,359.9L417.27,359.7L421.57,359.7L425.87,359.8L430.17,359.8L434.48,360L438.78,359.9L443.08,359.9L447.38,360L451.68,360.1L455.98,360.1L460.28,359.9L464.59,360L468.89,359.8L473.19,359.9L477.49,359.8L481.79,359.9L486.09,360L490.4,359.9L494.7,359.9L499,359.8L503.3,359.9L507.6,360L511.9,359.9L516.2,359.8L520.51,359.7L524.81,359.7L529.11,359.9L533.41,359.8L537.71,359.8L542.01,359.8L546.32,359.7L550.62,359.9L554.92,359.7L559.22,359.7L563.52,359.9L567.82,360L572.12,359.9L576.43,359.8L580.73,359.9L585.03,359.9L589.33,359.8L593.63,359.9L597.93,359.8L602.24,359.8L606.54,360L610.84,359.9L615.14,359.9L619.44,359.9L623.74,359.8L628.05,359.9L632.35,359.8L636.65,359.9L640.95,359.8L645.25,359.8L649.55,359.8L653.85,359.9L658.16,359.8L662.46,359.7L666.76,359.7L671.06,359.7L675.36,359.9L679.66,360L683.97,359.8L688.27,359.8L692.57,359.7L696.87,359.8L701.17,359.8L705.47,359.7" stroke="#d62728"/>
<path d="M59.93,452.8h0.62M64.23,442.8h0.62M68.53,437.7h0.62M72.83,435.5h0.62M77.13,434.1h0.62M81.43,433.5h0.62M85.74,433.2h0.62M90.04,432.9h0.62M94.34,433h0.62M98.64,432.9h0.62M102.94,432.9h0.62M107.24,432.8h0.62M111.55,428.4h0.62M115.85,419.9h0.62M120.15,415.6h0.62M124.45,413.4h0.62M128.75,412.3h0.62M133.05,411.8h0.62M137.35,403.9h0.62M141.66,396.8h0.62M145.96,393.2h0.62M150.26,391.5h0.62M154.56,390.6h0.62M158.86,390h0.62M163.16,381.6h0.62M167.47,374.7h0.62M171.77,371.4h0.62M176.07,369.8h0.62M180.37,369h0.62M184.67,368.5h0.62M188.97,364.1h0.62M193.28,361.9h0.62M197.58,361h0.62M201.88,360.4h0.62M206.18,360h0.62M210.48,359.9h0.62M214.78,360h0.62M219.08,360h0.62M223.39,360.1h0.62M227.69,360h0.62M231.99,359.8h0.62M236.29,359.8h0.62M240.59,359.8h0.62M244.89,359.7h0.62M249.2,359.7h0.62M253.5,359.7h0.62M257.8,359.8h0.62M262.1,359.8h0.62M266.4,359.8h0.62M270.7,359.8h0.62M275,359.8h0.62M279.31,359.9h0.62M283.61,359.8h0.62M287.91,359.8h0.62M292.21,359.8h0.62M296.51,359.9h0.62M300.81,360h0.62M305.12,360.1h0.62M309.42,359.9h0.62M313.72,359.7h0.62M318.02,359.7h0.62M322.32,359.8h0.62M326.62,359.8h0.62M330.93,359.7h0.62M335.23,359.8h0.62M339.53,359.9h0.62M343.83,359.9h0.62M348.13,359.9h0.62M352.43,359.9h0.62M356.73,359.9h0.62M361.04,359.8h0.62M365.34,359.7h0.62M369.64,359.9h0.62M373.94,359.9h0.62M378.24,360h0.62M382.54,360h0.62M386.85,359.9h0.62M391.15,359.8h0.62M395.45,359.7h0.62M399.75,359.8h0.62M404.05,360h0.62M408.35,359.9h0.62M412.65,359.9h0.62M416.96,359.7h0.62M421.26,359.7h0.62M425.56,359.8h0.62M429.86,359.8h0.62M434.16,360h0.62M438.46,359.9h0.62M442.77,359.9h0.62M447.07,360h0.62M451.37,360.1h0.62M455.67,360.1h0.62M459.97,359.9h0.62M464.27,360h0.62M468.57,359.8h0.62M472.88,359.9h0.62M477.18,359.8h0.62M481.48,359.9h0.62M485.78,360h0.62M490.08,359.9h0.62M494.38,359.9h0.62M498.69,359.8h0.62M502.99,359.9h0.62M507.29,360h0.62M511.59,359.9h0.62M515.89,359.8h0.62M520.19,359.7h0.62M524.5,359.7h0.62M528.8,359.9h0.62M533.1,359.8h0.62M537.4,359.8h0.62M541.7,359.8h0.62M546,359.7h0.62M550.3,359.9h0.62M554.61,359.7h0.62M558.91,359.7h0.62M563.21,359.9h0.62M567.51,360h0.62M571.81,359.9h0.62M576.11,359.8h0.62M580.42,359.9h0.62M584.72,359.9h0.62M589.02,359.8h0.62M593.32,359.9h0.62M597.62,359.8h0.62M601.92,359.8h0.62M606.23,360h0.62M610.53,359.9h0.62M614.83,359.9h0.62M619.13,359.9h0.62M623.43,359.8h0.62M627.73,359.9h0.62M632.03,359.8h0.62M636.34,359.9h0.62M640.64,359.8h0.62M644.94,359.8h0.62M649.24,359.8h0.62M653.54,359.9h0.62M657.84,359.8h0.62M662.15,359.7h0.62M666.45,359.7h0.62M670.75,359.7h0.62M675.05,359.9h0.62M679.35,360h0.62M683.65,359.8h0.62M687.95,359.8h0.62M692.26,359.7h0.62M696.56,359.8h0.62M700.86,359.8h0.62" stroke="#d62728" class="n"/>
<path d="M55.94,454.5L60.24,453.2L64.54,443L68.84,438L73.14,435.4L77.45,434.2L81.75,433.5L86.05,433.2L90.35,433L94.65,433L98.95,432.9L103.25,432.9L107.56,432.9L111.86,428.8L116.16,420L120.46,415.7L124.76,413.5L129.06,412.4L133.37,411.8L137.67,404.4L141.97,397L146.27,393.4L150.57,391.5L154.87,390.6L159.17,390.1L163.48,382.1L167.78,375.1L172.08,371.6L176.38,369.8L180.68,368.9L184.98,368.5L189.29,359.6L193.59,353L197.89,349.7L202.19,348.1L206.49,347.3L210.79,346.9L215.1,337.1L219.4,331L223.7,327.9L228,326.4L232.3,325.6L236.6,325.2L240.9,317.5L245.21,313.6L249.51,311.6L253.81,310.7L258.11,310.2L262.41,309.9L266.71,309.8L271.02,309.8L275.32,309.7L279.62,309.7L283.92,309.7L288.22,309.7L292.52,309.7L296.82,309.7L301.13,309.7L305.43,309.7L309.73,309.7L314.03,309.7L318.33,309.7L322.63,309.7L326.94,309.7L331.24,309.7L335.54,309.7L339.84,309.7L344.14,309.7L348.44,309.7L352.75,309.7L357.05,309.7L361.35,309.7L365.65,309.7L369.95,309.7L374.25,309.7L378.55,309.7L382.86,309.7L387.16,309.7L391.46,309.7L395.76,309.7L400.06,309.7L404.36,309.7L408.67,309.7L412.97,309.7L417.27,309.7L421.57,309.7L425.87,309.7L430.17,309.7L434.48,309.7L438.78,309.7L443.08,309.7L447.38,309.7L451.68,309.7L455.98,309.7L460.28,309.7L464.59,309.7L468.89,309.7L473.19,309.7L477.49,309.7L481.79,309.7L486.09,309.7L490.4,309.7L494.7,309.7L499,309.7L503.3,309.7L507.6,309.7L511.9,309.7L516.2,309.7L520.51,309.7L524.81,309.7L529.11,309.7L533.41,309.7L537.71,309.7L542.01,309.7L546.32,312.6L550.62,311L554.92,310.4L559.22,310.1L563.52,310L567.82,309.7L572.12,310.1L576.43,310.1L580.73,309.7L585.03,309.7L589.33,309.7L593.63,309.7L597.93,309.7L602.24,309.7L606.54,309.7L610.84,309.7L615.14,309.7L619.44,309.7L623.74,309.7L628.05,309.7L632.35,309.7L636.65,309.7L640.95,309.7L645.25,309.7L649.55,309.7L653.85,309.7L658.16,309.7L662.46,309.7L666.76,309.7L671.06,309.7L675.36,309.7L679.66,309.7L683.97,309.7L688.27,309.7L692.57,309.7L696.87,309.7L701.17,309.7L705.47,309.7" stroke="#8c564b"/>
<path d="M59.93,453.2h0.62M64.23,443h0.62M68.53,438h0.62M72.83,435.4h0.62M77.13,434.2h0.62M81.43,433.5h0.62M85.74,433.2h0.62M90.04,433h0.62M94.34,433h0.62M98.64,432.9h0.62M102.94,432.9h0.62M107.24,432.9h0.62M111.55,428.8h0.62M115.85,420h0.62M120.15,415.7h0.62M124.45,413.5h0.62M128.75,412.4h0.62M133.05,411.8h0.62M137.35,404.4h0.62M141.66,397h0.62M145.96,393.4h0.62M150.26,391.5h0.62M154.56,390.6h0.62M158.86,390.1h0.62M163.16,382.1h0.62M167.47,375.1h0.62M171.77,371.6h0.62M176.07,369.8h0.62M180.37,368.9h0.62M184.67,368.5h0.62M188.97,359.6h0.62M193.28,353h0.62M197.58,349.7h0.62M201.88,348.1h0.62M206.18,347.3h0.62M210.48,346.9h0.62M214.78,337.1h0.62M219.08,331h0.62M223.39,327.9h0.62M227.69,326.4h0.62M231.99,325.6h0.62M236.29,325.2h0.62M240.59,317.5h0.62M244.89,313.6h0.62M249.2,311.6h0.62M253.5,310.7h0.62M257.8,310.2h0.62M262.1,309.9h0.62M266.4,309.8h0.62M270.7,309.8h0.62M275,309.7h0.62M279.31,309.7h0.62M283.61,309.7h0.62M287.91,309.7h0.62M292.21,309.7h0.62M296.51,309.7h0.62M300.81,309.7h0.62M305.12,309.7h0.62M309.42,309.7h0.62M313.72,309.7h0.62M318.02,309.7h0.62M322.32,309.7h0.62M326.62,309.7h0.62M330.93,309.7h0.62M335.23,309.7h0.62M339.53,309.7h0.62M343.83,309.7h0.62M348.13,309.7h0.62M352.43,309.7h0.62M356.73,309.7h0.62M361.04,309.7h0.62M365.34,309.7h0.62M369.64,309.7h0.62M373.94,309.7h0.62M378.24,309.7h0.62M382.54,309.7h0.62M386.85,309.7h0.62M391.15,309.7h0.62M395.45,309.7h0.62M399.75,309.7h0.62M404.05,309.7h0.62M408.35,309.7h0.62M412.65,309.7h0.62M416.96,309.7h0.62M421.26,309.7h0.62M425.56,309.7h0.62M429.86,309.7h0.62M434.16,309.7h0.62M438.46,309.7h0.62M442.77,309.7h0.62M447.07,309.7h0.62M451.37,309.7h0.62M455.67,309.7h0.62M459.97,309.7h0.62M464.27,309.7h0.62M468.57,309.7h0.62M472.88,309.7h0.62M477.18,309.7h0.62M481.48,309.7h0.62M485.78,309.7h0.62M490.08,309.7h0.62M494.38,309.7h0.62M498.69,309.7h0.62M502.99,309.7h0.62M507.29,309.7h0.62M511.59,309.7h0.62M515.89,309.7h0.62M520.19,309.7h0.62M524.5,309.7h0.62M528.8,309.7h0.62M533.1,309.7h0.62M537.4,309.7h0.62M541.7,309.7h0.62M546,312.6h0.62M550.3,311h0.62M554.61,310.4h0.62M558.91,310.1h0.62M563.21,310h0.62M567.51,309.7h0.62M571.81,310.1h0.62M576.11,310.1h0.62M580.42,309.7h0.62M584.72,309.7h0.62M589.02,309.7h0.62M593.32,309.7h0.62M597.62,309.7h0.62M601.92,309.7h0.62M606.23,309.7h0.62M610.53,309.7h0.62M614.83,309.7h0.62M619.13,309.7h0.62M623.43,309.7h0.62M627.73,309.7h0.62M632.03,309.7h0.62M636.34,309.7h0.62M640.64,309.7h0.62M644.94,309.7h0.62M649.24,309.7h0.62M653.54,309.7h0.62M657.84,309.7h0.62M662.15,309.7h0.62M666.45,309.7h0.62M670.75,309.7h0.62M675.05,309.7h0.62M679.35,309.7h0.62M683.65,309.7h0.62M687.95,309.7h0.62M692.26,309.7h0.62M696.56,309.7h0.62M700.86,309.7h0.62" stroke="#8c564b" class="n"/>
<path d="M55.94,454.5L60.24,452.4L64.54,442.7L68.84,437.8L73.14,435.3L77.45,434.1L81.75,433.5L86.05,433.2L90.35,433L94.65,433L98.95,432.9L103.25,432.9L107.56,432.9L111.86,428L116.16,419.7L120.46,415.5L124.76,413.4L129.06,412.3L133.37,411.8L137.67,403.7L141.97,396.7L146.27,393.2L150.57,391.4L154.87,390.5L159.17,390.1L163.48,381.3L167.78,374.7L172.08,371.4L176.38,369.7L180.68,368.9L184.98,368.5L189.29,358.9L193.59,352.7L197.89,349.5L202.19,348L206.49,347.2L210.79,346.8L215.1,336.4L219.4,330.6L223.7,327.7L228,326.3L232.3,325.6L236.6,324.9L240.9,314L245.21,308.6L249.51,305.9L253.81,304.6L258.11,303.9L262.41,303.2L266.71,292.4L271.02,287L275.32,284.3L279.62,283L283.92,282.3L288.22,281.6L292.52,276.5L296.82,274L301.13,272.7L305.43,272L309.73,271.7L314.03,271.6L318.33,271.5L322.63,271.4L326.94,271.4L331.24,271.4L335.54,271.4L339.84,270.1L344.14,271L348.44,271.4L352.75,271.4L357.05,271.4L361.35,271.4L365.65,271.4L369.95,271.4L374.25,271.4L378.55,271.4L382.86,271.4L387.16,271.4L391.46,271.4L395.76,271.4L400.06,271.4L404.36,271.4L408.67,271.4L412.97,271.4L417.27,271.4L421.57,271.4L425.87,271.4L430.17,271.4L434.48,271.4L438.78,271.4L443.08,271.4L447.38,271.4L451.68,271.4L455.98,271.4L460.28,271.4L464.59,271.4L468.89,271.4L473.19,271.4L477.49,271.4L481.79,271.4L486.09,271.9L490.4,271.9L494.7,271.9L499,271.9L503.3,271.9L507.6,271.9L511.9,271.9L516.2,271.9L520.51,271.9L524.81,271.9L529.11,271.9L533.41,271.9L537.71,271.9L542.01,271.9L546.32,271.9L550.62,271.9L554.92,271.9L559.22,271.9L563.52,271.9L567.82,271.9L572.12,271.9L576.43,271.9L580.73,272.1L585.03,272.1L589.33,272.1L593.63,272.1L597.93,272.1L602.24,272.1L606.54,272.1L610.84,272.1L615.14,272.1L619.44,272.1L623.74,272.1L628.05,272.1L632.35,272.1L636.65,272.1L640.95,272.1L645.25,281.6L649.55,276.5L653.85,274.7L658.16,273.2L662.46,273.3L666.76,272.7L671.06,271.4L675.36,272.5L679.66,272.1L683.97,272.1L688.27,272.1L692.57,272.1L696.87,272.1L701.17,272.1L705.47,272.1" stroke="#e377c2"/>
<path d="M59.93,452.4h0.62M64.23,442.7h0.62M68.53,437.8h0.62M72.83,435.3h0.62M77.13,434.1h0.62M81.43,433.5h0.62M85.74,433.2h0.62M90.04,433h0.62M94.34,433h0.62M98.64,432.9h0.62M102.94,432.9h0.62M107.24,432.9h0.62M111.55,428h0.62M115.85,419.7h0.62M120.15,415.5h0.62M124.45,413.4h0.62M128.75,412.3h0.62M133.05,411.8h0.62M137.35,403.7h0.62M141.66,396.7h0.62M145.96,393.2h0.62M150.26,391.4h0.62M154.56,390.5h0.62M158.86,390.1h0.62M163.16,381.3h0.62M167.47,374.7h0.62M171.77,371.4h0.62M176.07,369.7h0.62M180.37,368.9h0.62M184.67,368.5h0.62M188.97,358.9h0.62M193.28,352.7h0.62M197.58,349.5h0.62M201.88,348h0.62M206.18,347.2h0.62M210.48,346.8h0.62M214.78,336.4h0.62M219.08,330.6h0.62M223.39,327.7h0.62M227.69,326.3h0.62M231.99,325.6h0.62M236.29,324.9h0.62M240.59,314h0.62M244.89,308.6h0.62M249.2,305.9h0.62M253.5,304.6h0.62M257.8,303.9h0.62M262.1,303.2h0.62M266.4,292.4h0.62M270.7,287h0.62M275,284.3h0.62M279.31,283h0.62M283.61,282.3h0.62M287.91,281.6h0.62M292.21,276.5h0.62M296.51,274h0.62M300.81,272.7h0.62M305.12,272h0.62M309.42,271.7h0.62M313.72,271.6h0.62M318.02,271.5h0.62M322.32,271.4h0.62M326.62,271.4h0.62M330.93,271.4h0.62M335.23,271.4h0.62M339.53,270.1h0.62M343.83,271h0.62M348.13,271.4h0.62M352.43,271.4h0.62M356.73,271.4h0.62M361.04,271.4h0.62M365.34,271.4h0.62M369.64,271.4h0.62M373.94,271.4h0.62M378.24,271.4h0.62M382.54,271.4h0.62M386.85,271.4h0.62M391.15,271.4h0.62M395.45,271.4h0.62M399.75,271.4h0.62M404.05,271.4h0.62M408.35,271.4h0.62M412.65,271.4h0.62M416.96,271.4h0.62M421.26,271.4h0.62M425.56,271.4h0.62M429.86,271.4h0.62M434.16,271.4h0.62M438.46,271.4h0.62M442.77,271.4h0.62M447.07,271.4h0.62M451.37,271.4h0.62M455.67,271.4h0.62M459.97,271.4h0.62M464.27,271.4h0.62M468.57,271.4h0.62M472.88,271.4h0.62M477.18,271.4h0.62M481.48,271.4h0.62M485.78,271.9h0.62M490.08,271.9h0.62M494.38,271.9h0.62M498.69,271.9h0.62M502.99,271.9h0.62M507.29,271.9h0.62M511.59,271.9h0.62M515.89,271.9h0.62M520.19,271.9h0.62M524.5,271.9h0.62M528.8,271.9h0.62M533.1,271.9h0.62M537.4,271.9h0.62M541.7,271.9h0.62M546,271.9h0.62M550.3,271.9h0.62M554.61,271.9h0.62M558.91,271.9h0.62M563.21,271.9h0.62M567.51,271.9h0.62M571.81,271.9h0.62M576.11,271.9h0.62M580.42,272.1h0.62M584.72,272.1h0.62M589.02,272.1h0.62M593.32,272.1h0.62M597.62,272.1h0.62M601.92,272.1h0.62M606.23,272.1h0.62M610.53,272.1h0.62M614.83,272.1h0.62M619.13,272.1h0.62M623.43,272.1h0.62M627.73,272.1h0.62M632.03,272.1h0.62M636.34,272.1h0.62M640.64,272.1h0.62M644.94,281.6h0.62M649.24,276.5h0.62M653.54,274.7h0.62M657.84,273.2h0.62M662.15,273.3h0.62M666.45,272.7h0.62M670.75,271.4h0.62M675.05,272.5h0.62M679.35,272.1h0.62M683.65,272.1h0.62M687.95,272.1h0.62M692.26,272.1h0.62M696.56,272.1h0.62M700.86,272.1h0.62" stroke="#e377c2" class="n"/>
<path d="M55.94,454.5L57.01,454.07M57.87,453.72L58.91,453.3M60.24,452.77L61.31,450.27M62.17,448.28L63.21,445.89M64.54,442.79L65.62,441.55M66.48,440.55L67.51,439.35M68.84,437.81L69.92,437.19M70.78,436.69L71.81,436.09M73.14,435.32L74.22,435M75.08,434.76L76.11,434.46M77.45,434.07L78.52,433.91M79.38,433.79L80.41,433.64M81.75,433.45L82.82,433.37M83.68,433.31L84.71,433.23M86.05,433.14L87.12,433.1M87.98,433.06L89.02,433.03M90.35,432.98L91.43,432.96M92.29,432.94L93.32,432.93M94.65,432.9L95.73,432.89M96.59,432.88L97.62,432.87M98.95,432.86L100.03,432.86M100.89,432.85L101.92,432.85M103.25,432.84L104.33,432.84M105.19,432.84L106.22,432.84M107.56,432.83L108.63,431.69M109.49,430.78L110.52,429.69M111.86,428.28L112.93,426.14M113.79,424.42L114.83,422.37M116.16,419.71L117.23,418.64M118.1,417.78L119.13,416.76M120.46,415.43L121.54,414.89M122.4,414.47L123.43,413.95M124.76,413.29L125.84,413.02M126.7,412.81L127.73,412.55M129.06,412.22L130.14,412.08M131,411.98L132.03,411.85M133.37,411.68L134.44,409.72M135.3,408.15L136.33,406.26M137.67,403.83L138.74,402.03M139.6,400.6L140.64,398.87M141.97,396.65L143.04,395.75M143.9,395.03L144.94,394.17M146.27,393.06L147.35,392.61M148.21,392.25L149.24,391.82M150.57,391.27L151.65,391.04M152.51,390.86L153.54,390.65M154.87,390.37L155.95,390.26M156.81,390.17L157.84,390.06M159.17,389.92L160.25,387.8M161.11,386.11L162.14,384.08M163.48,381.46L164.55,379.75M165.41,378.38L166.44,376.74M167.78,374.63L168.85,373.77M169.71,373.09L170.75,372.27M172.08,371.21L173.16,370.78M174.02,370.44L175.05,370.03M176.38,369.5L177.46,369.29M178.32,369.12L179.35,368.91M180.68,368.65L181.76,368.54M182.62,368.46L183.65,368.35M184.98,368.22L186.06,365.89M186.92,364.03L187.95,361.79M189.29,358.9L190.36,357.3M191.22,356.03L192.25,354.49M193.59,352.51L194.66,351.71M195.52,351.07L196.56,350.3M197.89,349.31L198.96,348.91M199.82,348.59L200.86,348.21M202.19,347.72L203.27,347.52M204.13,347.36L205.16,347.16M206.49,346.92L207.57,346.82M208.43,346.74L209.46,346.64M210.79,346.52L211.87,343.97M212.73,341.94L213.76,339.5M215.1,336.35L216.17,334.86M217.03,333.67L218.06,332.24M219.4,330.39L220.47,329.65M221.33,329.05L222.36,328.34M223.7,327.42L224.77,327.04M225.63,326.75L226.67,326.39M228,325.93L229.08,325.74M229.94,325.59L230.97,325.42M232.3,325.18L233.38,325.09M234.24,325.02L235.27,324.93M236.6,324.81L237.68,322.06M238.54,319.85L239.57,317.21M240.9,313.79L241.98,312.41M242.84,311.31L243.87,309.99M245.21,308.28L246.28,307.59M247.14,307.04L248.17,306.37M249.51,305.52L250.58,305.18M251.44,304.9L252.48,304.57M253.81,304.14L254.88,303.97M255.75,303.83L256.78,303.67M258.11,303.45L259.19,303.37M260.05,303.3L261.08,303.22M262.41,303.11L263.49,300.36M264.35,298.15L265.38,295.51M266.71,292.1L267.79,290.72M268.65,289.62L269.68,288.3M271.02,286.59L272.09,285.9M272.95,285.35L273.98,284.69M275.32,283.84L276.39,283.5M277.25,283.22L278.29,282.89M279.62,282.46L280.69,282.29M281.55,282.15L282.59,281.99M283.92,281.78L285,281.69M285.86,281.62L286.89,281.54M288.22,281.43L289.3,278.68M290.16,276.48L291.19,273.83M292.52,270.42L293.6,269.05M294.46,267.94L295.49,266.62M296.82,264.92L297.9,264.23M298.76,263.68L299.79,263.02M301.13,262.16L302.2,261.82M303.06,261.54L304.09,261.21M305.43,260.79L306.5,260.62M307.36,260.48L308.4,260.31M309.73,260.1L310.81,259.8M311.67,259.55L312.7,259.26M314.03,258.89L315.11,256.24M315.97,254.13L317,251.59M318.33,248.31L319.41,246.99M320.27,245.93L321.3,244.66M322.63,243.02L323.71,242.05M324.57,241.28L325.6,240.34M326.94,239.14L328.01,238.96M328.87,238.82L329.9,238.66M331.24,238.44L332.31,238.35M333.17,238.28L334.21,238.19M335.54,238.09L336.61,237.83M337.47,237.62L338.51,237.37M339.84,237.04L340.92,234.42M341.78,232.32L342.81,229.8M344.14,226.55L345.22,225.24M346.08,224.19L347.11,222.93M348.44,221.3L349.52,220.47M350.38,219.8L351.41,218.99M352.75,217.95L353.82,217.72M354.68,217.53L355.71,217.3M357.05,217.01L358.12,216.89M358.98,216.79L360.01,216.68M361.35,216.53L362.42,216.26M363.28,216.03L364.32,215.77M365.65,215.43L366.73,212.8M367.59,210.69L368.62,208.17M369.95,204.9L371.03,203.59M371.89,202.54L372.92,201.27M374.25,199.64L375.33,198.99M376.19,198.46L377.22,197.83M378.55,197.01L379.63,196.56M380.49,196.19L381.52,195.75M382.86,195.19L383.93,194.87M384.79,194.61L385.82,194.31M387.16,193.91L388.23,193.81M389.09,193.72L390.13,193.63M391.46,193.5L392.53,190.9M393.4,188.82L394.43,186.32M395.76,183.1L396.84,181.8M397.7,180.76L398.73,179.51M400.06,177.9L401.14,177.11M402,176.47L403.03,175.71M404.36,174.72L405.44,174.47M406.3,174.27L407.33,174.03M408.67,173.71L409.74,173.59M410.6,173.49L411.63,173.37M412.97,173.21L414.04,172.93M414.9,172.71L415.94,172.44M417.27,172.09L418.34,169.46M419.2,167.35L420.24,164.82M421.57,161.56L422.65,160.24M423.51,159.19L424.54,157.93M425.87,156.29L426.95,155.18M427.81,154.29L428.84,153.22M430.17,151.84L431.25,151.74M432.11,151.66L433.14,151.56M434.48,151.43L435.55,151.38M436.41,151.34L437.44,151.29M438.78,151.23L439.85,150.99M440.71,150.8L441.74,150.56M443.08,150.26L444.15,147.65M445.01,145.56L446.05,143.05M447.38,139.81L448.46,138.5M449.32,137.45L450.35,136.2M451.68,134.58L452.76,133.58M453.62,132.78L454.65,131.82M455.98,130.58L457.06,130.43M457.92,130.31L458.95,130.16M460.28,129.97L461.36,129.89M462.22,129.83L463.25,129.75M464.59,129.66L465.66,129.4M466.52,129.2L467.55,128.95M468.89,128.64L469.96,125.51M470.82,123L471.86,120M473.19,116.12L474.26,115.06M475.12,114.22L476.16,113.2M477.49,111.9L478.57,111.37M479.43,110.95L480.46,110.44M481.79,109.79L482.87,109.52M483.73,109.31L484.76,109.06M486.09,108.73L487.17,108.6M488.03,108.49L489.06,108.37M490.4,108.2L491.47,107.92M492.33,107.69L493.36,107.42M494.7,107.07L495.77,104.44M496.63,102.33L497.66,99.8M499,96.54L500.07,95.22M500.93,94.16L501.97,92.9M503.3,91.27L504.38,90.61M505.24,90.08L506.27,89.45M507.6,88.63L508.68,87.76M509.54,87.06L510.57,86.22M511.9,85.13L512.98,85.24M513.84,85.33L514.87,85.43M516.2,85.56L517.28,85.4M518.14,85.27L519.17,85.12M520.51,84.91L521.58,82.34M522.44,80.28L523.47,77.81M524.81,74.62L525.88,73.33M526.74,72.3L527.78,71.07M529.11,69.47L530.18,68.83M531.05,68.31L532.08,67.69M533.41,66.9L534.49,66.1M535.35,65.46L536.38,64.7M537.71,63.72L538.79,63.79M539.65,63.85L540.68,63.92M542.01,64.02L543.09,63.95M543.95,63.89L544.98,63.83M546.32,63.74L547.39,61.1M548.25,58.99L549.28,56.46M550.62,53.19L551.69,51.87M552.55,50.82L553.59,49.55M554.92,47.92L555.99,47.26M556.85,46.73L557.89,46.1M559.22,45.28L560.3,44.95M561.16,44.69L562.19,44.37M563.52,43.96L564.6,43.8M565.46,43.67L566.49,43.51M567.82,43.3L568.9,43.01M569.76,42.77L570.79,42.48M572.12,42.11L573.2,39.47M574.06,37.35L575.09,34.82M576.43,31.54L577.5,30.22M578.36,29.16L579.39,27.89M580.73,26.25L581.8,25.59M582.66,25.06L583.7,24.43M585.03,23.61L586.11,23.28M586.97,23.02L588,22.7M589.33,22.29L590.41,22.13M591.27,21.99L592.3,21.83M593.63,21.63L594.71,21.55M595.57,21.48L596.6,21.4M597.93,21.3L599.01,21.13M599.87,20.99L600.9,20.83M602.24,20.61L603.31,20.55M604.17,20.5L605.2,20.44M606.54,20.36L607.61,20.28M608.47,20.22L609.51,20.14M610.84,20.04L611.91,20.07M612.77,20.1L613.81,20.13M615.14,20.17L616.22,20.3M617.08,20.4L618.11,20.52M619.44,20.68L620.52,20.54M621.38,20.42L622.41,20.29M623.74,20.11L624.82,20.2M625.68,20.27L626.71,20.35M628.05,20.45L629.12,20.43M629.98,20.41L631.01,20.39M632.35,20.36L633.42,20.44M634.28,20.51L635.31,20.59M636.65,20.69L637.72,20.66M638.58,20.64L639.62,20.62M640.95,20.59L642.03,20.44M642.89,20.33L643.92,20.19M645.25,20.01L646.33,19.93M647.19,19.87L648.22,19.8M649.55,19.7L650.63,19.77M651.49,19.83L652.52,19.9M653.85,19.99L654.93,20.03M655.79,20.07L656.82,20.11M658.16,20.16L659.23,20.21M660.09,20.25L661.12,20.29M662.46,20.35L663.53,20.41M664.39,20.46L665.43,20.52M666.76,20.6L667.83,20.62M668.7,20.63L669.73,20.65M671.06,20.68L672.14,20.44M673,20.26L674.03,20.03M675.36,19.75L676.44,19.96M677.3,20.14L678.33,20.35M679.66,20.62L680.74,20.61M681.6,20.61L682.63,20.6M683.97,20.59L685.04,20.61M685.9,20.62L686.93,20.64M688.27,20.65L689.34,20.57M690.2,20.51L691.24,20.43M692.57,20.33L693.64,20.25M694.5,20.18L695.54,20.1M696.87,20L697.95,20.16M698.81,20.29L699.84,20.44M701.17,20.64L702.25,20.62M703.11,20.61L704.14,20.6" stroke="#7f7f7f" class="d"/>
</g>
<path d="M79,19.5H1138.5" stroke="#aaa" fill="none"/>
<g class="ax"><path d="M72,19.5H78.5V454.5H72"/>
<path d="M72,454.5H78.5"/><text x="69.5" y="458" text-anchor="end">0.000</text>
<path d="M72,425.5H78.5"/><text x="69.5" y="429" text-anchor="end">2.000</text>
<path d="M72,396.5H78.5"/><text x="69.5" y="400" text-anchor="end">4.000</text>
<path d="M72,367.5H78.5"/><text x="69.5" y="371" text-anchor="end">6.000</text>
<path d="M72,338.5H78.5"/><text x="69.5" y="342" text-anchor="end">8.000</text>
<path d="M72,309.5H78.5"/><text x="69.5" y="313" text-anchor="end">10.000</text>
<path d="M72,280.5H78.5"/><text x="69.5" y="284" text-anchor="end">12.000</text>
<path d="M72,251.5H78.5"/><text x="69.5" y="255" text-anchor="end">14.000</text>
<path d="M72,222.5H78.5"/><text x="69.5" y="226" text-anchor="end">16.000</text>
<path d="M72,193.5H78.5"/><text x="69.5" y="197" text-anchor="end">18.000</text>
<path d="M72,164.5H78.5"/><text x="69.5" y="168" text-anchor="end">20.000</text>
<path d="M72,134.5H78.5"/><text x="69.5" y="138" text-anchor="end">22.000</text>
<path d="M72,105.5H78.5"/><text x="69.5" y="109" text-anchor="end">24.000</text>
<path d="M72,76.5H78.5"/><text x="69.5" y="80" text-anchor="end">26.000</text>
<path d="M72,47.5H78.5"/><text x="69.5" y="51" text-anchor="end">28.000</text>
</g>
<g class="ax"><path d="M1144.5,19.5H1138.5V454.5H1144.5"/>
<path d="M1138.5,454.5H1144.5"/><text x="1147.5" y="458">0.0</text>
<path d="M1138.5,411.5H1144.5"/><text x="1147.5" y="415">0.1</text>
<path d="M1138.5,367.5H1144.5"/><text x="1147.5" y="371">0.2</text>
<path d="M1138.5,324.5H1144.5"/><text x="1147.5" y="328">0.3</text>
<path d="M1138.5,280.5H1144.5"/><text x="1147.5" y="284">0.4</text>
<path d="M1138.5,237.5H1144.5"/><text x="1147.5" y="241">0.5</text>
<path d="M1138.5,193.5H1144.5"/><text x="1147.5" y="197">0.6</text>
<path d="M1138.5,150.5H1144.5"/><text x="1147.5" y="154">0.7</text>
<path d="M1138.5,106.5H1144.5"/><text x="1147.5" y="110">0.8</text>
<path d="M1138.5,63.5H1144.5"/><text x="1147.5" y="67">0.9</text>
<path d="M1138.5,19.5H1144.5"/><text x="1147.5" y="23">1.0</text>
</g>
<g class="ax"><path d="M78.5,460.5V454.5H1138.5V460.5"/>
<path d="M89.5,454.5V460.5"/><text x="89.5" y="471" text-anchor="middle">0</text>
<path d="M777.5,454.5V460.5"/><text x="777.5" y="471" text-anchor="middle">100</text>
</g>
<text class="lb" transform="translate(27,236.5) rotate(-90)" text-anchor="middle">Mpps</text>
<text class="lb" transform="translate(1183,236.5) rotate(-90)" text-anchor="middle">fraction of linerate</text>
<text class="lb" x="608.5" y="485" text-anchor="middle">seconds</text>
</svg>
</body></html>
